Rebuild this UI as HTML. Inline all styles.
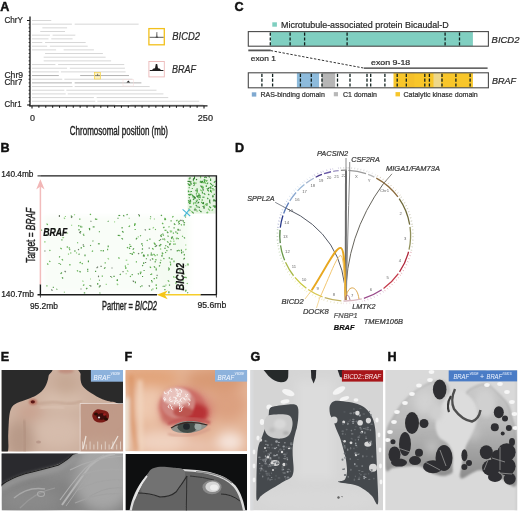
<!DOCTYPE html>
<html><head><meta charset="utf-8"><title>BICD2-BRAF figure</title>
<style>html,body{margin:0;padding:0;background:#fff;}svg{display:block;}
text{font-family:'Liberation Sans', Arial, Helvetica, sans-serif;}</style></head><body>
<svg width="520" height="512" viewBox="0 0 520 512">
<rect x="0" y="0" width="520" height="512" fill="#fff"/>
<text x="0.20" y="11.30" font-size="12.60" fill="#111" font-weight="bold" font-style="normal" text-anchor="start" stroke="#111" stroke-width="0.45">A</text>
<line x1="32.00" y1="20.50" x2="51.26" y2="20.50" stroke="#d3d3d3" stroke-width="0.9"/>
<line x1="28.6" y1="20.50" x2="30" y2="20.50" stroke="#222" stroke-width="0.9"/>
<path d="M32.00 24.17 H71.90 M74.66 24.17 H138.64" stroke="#d3d3d3" stroke-width="0.9"/>
<line x1="28.6" y1="24.17" x2="30" y2="24.17" stroke="#222" stroke-width="0.9"/>
<line x1="42.32" y1="27.84" x2="67.09" y2="27.84" stroke="#d3d3d3" stroke-width="0.9"/>
<line x1="28.6" y1="27.84" x2="30" y2="27.84" stroke="#222" stroke-width="0.9"/>
<line x1="40.26" y1="31.51" x2="65.02" y2="31.51" stroke="#d3d3d3" stroke-width="0.9"/>
<line x1="28.6" y1="31.51" x2="30" y2="31.51" stroke="#222" stroke-width="0.9"/>
<path d="M32.00 35.18 H49.89 M52.64 35.18 H75.34" stroke="#d3d3d3" stroke-width="0.9"/>
<line x1="28.6" y1="35.18" x2="30" y2="35.18" stroke="#222" stroke-width="0.9"/>
<path d="M32.00 38.85 H48.51 M51.26 38.85 H72.59" stroke="#d3d3d3" stroke-width="0.9"/>
<line x1="28.6" y1="38.85" x2="30" y2="38.85" stroke="#222" stroke-width="0.9"/>
<path d="M32.00 42.52 H42.32 M45.07 42.52 H85.66" stroke="#d3d3d3" stroke-width="0.9"/>
<line x1="28.6" y1="42.52" x2="30" y2="42.52" stroke="#222" stroke-width="0.9"/>
<path d="M32.00 46.19 H47.14 M49.89 46.19 H87.73" stroke="#d3d3d3" stroke-width="0.9"/>
<line x1="28.6" y1="46.19" x2="30" y2="46.19" stroke="#222" stroke-width="0.9"/>
<path d="M32.00 49.86 H56.08 M63.65 49.86 H93.92" stroke="#d3d3d3" stroke-width="0.9"/>
<line x1="28.6" y1="49.86" x2="30" y2="49.86" stroke="#222" stroke-width="0.9"/>
<line x1="45.07" y1="53.53" x2="102.86" y2="53.53" stroke="#d3d3d3" stroke-width="0.9"/>
<line x1="28.6" y1="53.53" x2="30" y2="53.53" stroke="#222" stroke-width="0.9"/>
<line x1="43.70" y1="57.20" x2="105.62" y2="57.20" stroke="#d3d3d3" stroke-width="0.9"/>
<line x1="28.6" y1="57.20" x2="30" y2="57.20" stroke="#222" stroke-width="0.9"/>
<line x1="43.70" y1="60.87" x2="111.12" y2="60.87" stroke="#d3d3d3" stroke-width="0.9"/>
<line x1="28.6" y1="60.87" x2="30" y2="60.87" stroke="#222" stroke-width="0.9"/>
<path d="M32.00 64.54 H55.39 M58.14 64.54 H124.19" stroke="#d3d3d3" stroke-width="0.9"/>
<line x1="28.6" y1="64.54" x2="30" y2="64.54" stroke="#222" stroke-width="0.9"/>
<path d="M32.00 68.21 H67.09 M69.84 68.21 H124.88" stroke="#d3d3d3" stroke-width="0.9"/>
<line x1="28.6" y1="68.21" x2="30" y2="68.21" stroke="#222" stroke-width="0.9"/>
<path d="M32.00 71.88 H58.83 M60.90 71.88 H125.57" stroke="#d3d3d3" stroke-width="0.9"/>
<line x1="28.6" y1="71.88" x2="30" y2="71.88" stroke="#222" stroke-width="0.9"/>
<path d="M32.00 75.55 H58.83 M80.16 75.55 H129.01" stroke="#aaaaaa" stroke-width="0.9"/>
<line x1="28.6" y1="75.55" x2="30" y2="75.55" stroke="#222" stroke-width="0.9"/>
<path d="M32.00 79.22 H62.27 M64.34 79.22 H132.45" stroke="#d3d3d3" stroke-width="0.9"/>
<line x1="28.6" y1="79.22" x2="30" y2="79.22" stroke="#222" stroke-width="0.9"/>
<path d="M32.00 82.89 H71.90 M74.66 82.89 H141.39" stroke="#aaaaaa" stroke-width="0.9"/>
<line x1="28.6" y1="82.89" x2="30" y2="82.89" stroke="#222" stroke-width="0.9"/>
<path d="M32.00 86.56 H72.59 M74.66 86.56 H149.65" stroke="#d3d3d3" stroke-width="0.9"/>
<line x1="28.6" y1="86.56" x2="30" y2="86.56" stroke="#222" stroke-width="0.9"/>
<path d="M32.00 90.23 H64.34 M66.40 90.23 H156.53" stroke="#d3d3d3" stroke-width="0.9"/>
<line x1="28.6" y1="90.23" x2="30" y2="90.23" stroke="#222" stroke-width="0.9"/>
<path d="M32.00 93.90 H65.71 M67.78 93.90 H163.41" stroke="#d3d3d3" stroke-width="0.9"/>
<line x1="28.6" y1="93.90" x2="30" y2="93.90" stroke="#222" stroke-width="0.9"/>
<path d="M32.00 97.57 H93.92 M96.67 97.57 H168.22" stroke="#d3d3d3" stroke-width="0.9"/>
<line x1="28.6" y1="97.57" x2="30" y2="97.57" stroke="#222" stroke-width="0.9"/>
<path d="M32.00 101.24 H95.30 M97.36 101.24 H199.18" stroke="#d3d3d3" stroke-width="0.9"/>
<line x1="28.6" y1="101.24" x2="30" y2="101.24" stroke="#222" stroke-width="0.9"/>
<path d="M32.00 104.91 H115.25 M130.38 104.91 H203.31" stroke="#d3d3d3" stroke-width="0.9"/>
<line x1="28.6" y1="104.91" x2="30" y2="104.91" stroke="#222" stroke-width="0.9"/>
<line x1="30" y1="16.5" x2="30" y2="106.4" stroke="#1a1a1a" stroke-width="1.3"/>
<line x1="27" y1="20.5" x2="30" y2="20.5" stroke="#1a1a1a" stroke-width="1"/>
<line x1="27" y1="105" x2="30" y2="105" stroke="#1a1a1a" stroke-width="1"/>
<line x1="29.4" y1="105.8" x2="207.5" y2="105.8" stroke="#1a1a1a" stroke-width="1.3"/>
<line x1="32.00" y1="105.8" x2="32.00" y2="108.60" stroke="#1a1a1a" stroke-width="1.1"/>
<line x1="38.88" y1="105.8" x2="38.88" y2="107.80" stroke="#1a1a1a" stroke-width="1.1"/>
<line x1="45.76" y1="105.8" x2="45.76" y2="107.80" stroke="#1a1a1a" stroke-width="1.1"/>
<line x1="52.64" y1="105.8" x2="52.64" y2="107.80" stroke="#1a1a1a" stroke-width="1.1"/>
<line x1="59.52" y1="105.8" x2="59.52" y2="107.80" stroke="#1a1a1a" stroke-width="1.1"/>
<line x1="66.40" y1="105.8" x2="66.40" y2="107.80" stroke="#1a1a1a" stroke-width="1.1"/>
<line x1="73.28" y1="105.8" x2="73.28" y2="107.80" stroke="#1a1a1a" stroke-width="1.1"/>
<line x1="80.16" y1="105.8" x2="80.16" y2="107.80" stroke="#1a1a1a" stroke-width="1.1"/>
<line x1="87.04" y1="105.8" x2="87.04" y2="107.80" stroke="#1a1a1a" stroke-width="1.1"/>
<line x1="93.92" y1="105.8" x2="93.92" y2="107.80" stroke="#1a1a1a" stroke-width="1.1"/>
<line x1="100.80" y1="105.8" x2="100.80" y2="107.80" stroke="#1a1a1a" stroke-width="1.1"/>
<line x1="107.68" y1="105.8" x2="107.68" y2="107.80" stroke="#1a1a1a" stroke-width="1.1"/>
<line x1="114.56" y1="105.8" x2="114.56" y2="107.80" stroke="#1a1a1a" stroke-width="1.1"/>
<line x1="121.44" y1="105.8" x2="121.44" y2="107.80" stroke="#1a1a1a" stroke-width="1.1"/>
<line x1="128.32" y1="105.8" x2="128.32" y2="107.80" stroke="#1a1a1a" stroke-width="1.1"/>
<line x1="135.20" y1="105.8" x2="135.20" y2="107.80" stroke="#1a1a1a" stroke-width="1.1"/>
<line x1="142.08" y1="105.8" x2="142.08" y2="107.80" stroke="#1a1a1a" stroke-width="1.1"/>
<line x1="148.96" y1="105.8" x2="148.96" y2="107.80" stroke="#1a1a1a" stroke-width="1.1"/>
<line x1="155.84" y1="105.8" x2="155.84" y2="107.80" stroke="#1a1a1a" stroke-width="1.1"/>
<line x1="162.72" y1="105.8" x2="162.72" y2="107.80" stroke="#1a1a1a" stroke-width="1.1"/>
<line x1="169.60" y1="105.8" x2="169.60" y2="107.80" stroke="#1a1a1a" stroke-width="1.1"/>
<line x1="176.48" y1="105.8" x2="176.48" y2="107.80" stroke="#1a1a1a" stroke-width="1.1"/>
<line x1="183.36" y1="105.8" x2="183.36" y2="107.80" stroke="#1a1a1a" stroke-width="1.1"/>
<line x1="190.24" y1="105.8" x2="190.24" y2="107.80" stroke="#1a1a1a" stroke-width="1.1"/>
<line x1="197.12" y1="105.8" x2="197.12" y2="107.80" stroke="#1a1a1a" stroke-width="1.1"/>
<line x1="204.00" y1="105.8" x2="204.00" y2="108.60" stroke="#1a1a1a" stroke-width="1.1"/>
<text x="4.40" y="23.00" font-size="8.57" fill="#2a2a2a" font-weight="normal" font-style="normal" text-anchor="start" textLength="18.60" lengthAdjust="spacingAndGlyphs" stroke="#2a2a2a" stroke-width="0.22">ChrY</text>
<text x="4.40" y="78.10" font-size="8.41" fill="#2a2a2a" font-weight="normal" font-style="normal" text-anchor="start" textLength="18.70" lengthAdjust="spacingAndGlyphs" stroke="#2a2a2a" stroke-width="0.22">Chr9</text>
<text x="4.40" y="85.00" font-size="8.41" fill="#2a2a2a" font-weight="normal" font-style="normal" text-anchor="start" textLength="17.90" lengthAdjust="spacingAndGlyphs" stroke="#2a2a2a" stroke-width="0.22">Chr7</text>
<text x="4.50" y="106.90" font-size="8.41" fill="#2a2a2a" font-weight="normal" font-style="normal" text-anchor="start" textLength="17.10" lengthAdjust="spacingAndGlyphs" stroke="#2a2a2a" stroke-width="0.22">Chr1</text>
<text x="30.00" y="120.60" font-size="8.41" fill="#2a2a2a" font-weight="normal" font-style="normal" text-anchor="start" textLength="5.00" lengthAdjust="spacingAndGlyphs" stroke="#2a2a2a" stroke-width="0.22">0</text>
<text x="197.80" y="120.60" font-size="8.41" fill="#2a2a2a" font-weight="normal" font-style="normal" text-anchor="start" textLength="15.20" lengthAdjust="spacingAndGlyphs" stroke="#2a2a2a" stroke-width="0.22">250</text>
<text x="69.80" y="134.70" font-size="11.90" fill="#222" font-weight="normal" font-style="normal" text-anchor="start" textLength="98.20" lengthAdjust="spacingAndGlyphs" stroke="#222" stroke-width="0.4">Chromosomal position (mb)</text>
<rect x="94.4" y="72.4" width="6.2" height="6.6" fill="#fdf3c4" stroke="#f4d04a" stroke-width="0.7"/>
<path d="M95 75.6 L100 75.6 M97.6 75.6 L97.6 73.8" stroke="#333" stroke-width="0.6"/>
<rect x="123" y="79.6" width="10.4" height="6.4" fill="none" stroke="#f6dcdc" stroke-width="0.5"/>
<path d="M126.5 82.6 L128.3 80.6 L130.2 82.6 Z" fill="#222"/>
<rect x="148.9" y="28.6" width="15.4" height="16.2" fill="#fff" stroke="#f2c01c" stroke-width="1.3"/>
<line x1="149.6" y1="37.3" x2="163.6" y2="37.3" stroke="#333" stroke-width="0.8"/>
<path d="M155.6 37.3 L156.6 37.0 L156.9 32.0 L157.2 37.0 L158.2 37.3 Z" fill="#222" stroke="#222" stroke-width="0.3"/>
<rect x="148.9" y="61.5" width="15.4" height="15.4" fill="#fff" stroke="#ecb8b8" stroke-width="0.9"/>
<path d="M149.8 70 L152 70 L153.5 68.6 L155 68.2 L155.8 64 L157.2 64 L158 68.2 L159.5 68.6 L161 70 L163.4 70 L163.4 71 L149.8 71 Z" fill="#1e1e1e"/>
<text x="172.30" y="39.60" font-size="10.00" fill="#2a2a2a" font-weight="normal" font-style="italic" text-anchor="start" textLength="27.60" lengthAdjust="spacingAndGlyphs" stroke="#2a2a2a" stroke-width="0.22">BICD2</text>
<text x="172.00" y="72.80" font-size="10.16" fill="#2a2a2a" font-weight="normal" font-style="italic" text-anchor="start" textLength="23.90" lengthAdjust="spacingAndGlyphs" stroke="#2a2a2a" stroke-width="0.22">BRAF</text>
<text x="0.60" y="152.00" font-size="12.60" fill="#111" font-weight="bold" font-style="normal" text-anchor="start" stroke="#111" stroke-width="0.45">B</text>
<rect x="44" y="216" width="141" height="76" fill="#f9fdf8" filter="url(#bl2)"/>
<path d="M150 262 L188 213 L188 290 L160 290 Z" fill="#f4fbf2" filter="url(#bl4)"/>
<rect x="187.6" y="176.6" width="28.2" height="37" fill="#e6f5e2"/>
<line x1="118.4" y1="257.5" x2="119.5" y2="258.5" stroke="#5cae4c" stroke-width="1.15"/>
<line x1="178.4" y1="249.9" x2="179.6" y2="251.1" stroke="#4f9a45" stroke-width="1.15"/>
<line x1="125.7" y1="260.2" x2="127.3" y2="260.2" stroke="#8fcf7f" stroke-width="1.15"/>
<line x1="79.5" y1="253.8" x2="78.6" y2="254.6" stroke="#4f9a45" stroke-width="1.15"/>
<line x1="142.0" y1="276.5" x2="143.1" y2="276.5" stroke="#4f9a45" stroke-width="1.15"/>
<line x1="62.3" y1="237.6" x2="64.1" y2="237.6" stroke="#8fcf7f" stroke-width="1.15"/>
<line x1="62.0" y1="277.3" x2="63.1" y2="278.5" stroke="#4f9a45" stroke-width="1.15"/>
<line x1="151.0" y1="216.5" x2="150.3" y2="217.2" stroke="#4f9a45" stroke-width="1.15"/>
<line x1="185.2" y1="290.2" x2="186.6" y2="290.2" stroke="#4f9a45" stroke-width="1.15"/>
<line x1="145.6" y1="261.9" x2="145.6" y2="263.0" stroke="#6a7a66" stroke-width="1.15"/>
<line x1="74.9" y1="214.3" x2="74.1" y2="215.1" stroke="#8fcf7f" stroke-width="1.15"/>
<line x1="129.2" y1="217.8" x2="129.2" y2="218.7" stroke="#8fcf7f" stroke-width="1.15"/>
<line x1="79.3" y1="232.0" x2="80.7" y2="233.4" stroke="#6a7a66" stroke-width="1.15"/>
<line x1="49.5" y1="250.0" x2="50.3" y2="250.8" stroke="#5cae4c" stroke-width="1.15"/>
<line x1="117.7" y1="280.0" x2="116.9" y2="280.9" stroke="#5cae4c" stroke-width="1.15"/>
<line x1="127.4" y1="264.4" x2="128.6" y2="264.4" stroke="#8fcf7f" stroke-width="1.15"/>
<line x1="125.4" y1="265.6" x2="125.4" y2="266.7" stroke="#5cae4c" stroke-width="1.15"/>
<line x1="118.7" y1="235.6" x2="120.5" y2="235.6" stroke="#8fcf7f" stroke-width="1.15"/>
<line x1="188.1" y1="292.3" x2="187.3" y2="293.1" stroke="#4f9a45" stroke-width="1.15"/>
<line x1="169.5" y1="269.2" x2="168.3" y2="270.4" stroke="#4f9a45" stroke-width="1.15"/>
<line x1="99.4" y1="231.2" x2="99.4" y2="232.3" stroke="#4f9a45" stroke-width="1.15"/>
<line x1="95.5" y1="218.5" x2="95.5" y2="219.7" stroke="#4f9a45" stroke-width="1.15"/>
<line x1="159.8" y1="244.8" x2="159.8" y2="245.8" stroke="#5cae4c" stroke-width="1.15"/>
<line x1="169.2" y1="243.8" x2="170.1" y2="244.7" stroke="#4f9a45" stroke-width="1.15"/>
<line x1="183.0" y1="280.3" x2="183.0" y2="281.5" stroke="#5cae4c" stroke-width="1.15"/>
<line x1="40.9" y1="229.7" x2="41.9" y2="230.7" stroke="#5cae4c" stroke-width="1.15"/>
<line x1="177.3" y1="250.1" x2="177.3" y2="251.6" stroke="#4f9a45" stroke-width="1.15"/>
<line x1="185.7" y1="244.6" x2="185.7" y2="245.5" stroke="#8fcf7f" stroke-width="1.15"/>
<line x1="59.1" y1="263.0" x2="59.1" y2="264.1" stroke="#4f9a45" stroke-width="1.15"/>
<line x1="160.9" y1="234.5" x2="161.7" y2="235.4" stroke="#4f9a45" stroke-width="1.15"/>
<line x1="61.9" y1="239.3" x2="61.9" y2="240.5" stroke="#4f9a45" stroke-width="1.15"/>
<line x1="183.1" y1="273.1" x2="184.4" y2="274.4" stroke="#4f9a45" stroke-width="1.15"/>
<line x1="67.1" y1="233.1" x2="68.1" y2="233.1" stroke="#8fcf7f" stroke-width="1.15"/>
<line x1="63.9" y1="217.7" x2="65.0" y2="218.8" stroke="#8fcf7f" stroke-width="1.15"/>
<line x1="163.1" y1="227.1" x2="164.1" y2="228.1" stroke="#8fcf7f" stroke-width="1.15"/>
<line x1="134.0" y1="248.4" x2="132.7" y2="249.7" stroke="#4f9a45" stroke-width="1.15"/>
<line x1="79.5" y1="271.2" x2="80.6" y2="272.2" stroke="#4f9a45" stroke-width="1.15"/>
<line x1="69.9" y1="263.9" x2="69.9" y2="265.4" stroke="#5cae4c" stroke-width="1.15"/>
<line x1="67.3" y1="246.2" x2="67.3" y2="247.7" stroke="#5cae4c" stroke-width="1.15"/>
<line x1="83.0" y1="234.3" x2="84.3" y2="235.6" stroke="#4f9a45" stroke-width="1.15"/>
<line x1="184.6" y1="276.7" x2="184.6" y2="278.1" stroke="#4f9a45" stroke-width="1.15"/>
<line x1="97.7" y1="283.0" x2="97.7" y2="284.7" stroke="#4f9a45" stroke-width="1.15"/>
<line x1="82.7" y1="244.8" x2="83.9" y2="244.8" stroke="#6a7a66" stroke-width="1.15"/>
<line x1="170.6" y1="263.6" x2="170.6" y2="265.4" stroke="#5cae4c" stroke-width="1.15"/>
<line x1="64.4" y1="291.7" x2="64.4" y2="292.6" stroke="#5cae4c" stroke-width="1.15"/>
<line x1="83.2" y1="234.0" x2="84.2" y2="234.0" stroke="#8fcf7f" stroke-width="1.15"/>
<line x1="160.2" y1="239.3" x2="161.0" y2="240.0" stroke="#6a7a66" stroke-width="1.15"/>
<line x1="95.8" y1="219.3" x2="97.3" y2="219.3" stroke="#5cae4c" stroke-width="1.15"/>
<line x1="61.8" y1="259.2" x2="63.0" y2="260.4" stroke="#5cae4c" stroke-width="1.15"/>
<line x1="88.4" y1="260.4" x2="88.4" y2="262.3" stroke="#4f9a45" stroke-width="1.15"/>
<line x1="107.6" y1="248.8" x2="107.6" y2="250.3" stroke="#5cae4c" stroke-width="1.15"/>
<line x1="183.5" y1="251.6" x2="182.8" y2="252.3" stroke="#4f9a45" stroke-width="1.15"/>
<line x1="135.4" y1="281.6" x2="135.4" y2="283.2" stroke="#4f9a45" stroke-width="1.15"/>
<line x1="78.8" y1="224.9" x2="78.8" y2="226.6" stroke="#5cae4c" stroke-width="1.15"/>
<line x1="177.1" y1="277.7" x2="177.1" y2="279.3" stroke="#5cae4c" stroke-width="1.15"/>
<line x1="89.0" y1="228.2" x2="89.8" y2="229.0" stroke="#4f9a45" stroke-width="1.15"/>
<line x1="156.5" y1="287.4" x2="156.5" y2="289.1" stroke="#5cae4c" stroke-width="1.15"/>
<line x1="80.5" y1="289.0" x2="81.5" y2="289.0" stroke="#6a7a66" stroke-width="1.15"/>
<line x1="174.0" y1="260.6" x2="174.0" y2="262.3" stroke="#5cae4c" stroke-width="1.15"/>
<line x1="114.2" y1="221.8" x2="115.1" y2="221.8" stroke="#8fcf7f" stroke-width="1.15"/>
<line x1="51.3" y1="289.5" x2="52.5" y2="290.6" stroke="#6a7a66" stroke-width="1.15"/>
<line x1="87.7" y1="268.8" x2="87.7" y2="270.2" stroke="#4f9a45" stroke-width="1.15"/>
<line x1="90.1" y1="279.0" x2="91.0" y2="279.0" stroke="#8fcf7f" stroke-width="1.15"/>
<line x1="137.7" y1="236.8" x2="138.8" y2="236.8" stroke="#8fcf7f" stroke-width="1.15"/>
<line x1="77.0" y1="270.3" x2="78.0" y2="271.3" stroke="#5cae4c" stroke-width="1.15"/>
<line x1="58.3" y1="230.8" x2="58.3" y2="232.5" stroke="#8fcf7f" stroke-width="1.15"/>
<line x1="132.8" y1="280.7" x2="134.0" y2="281.9" stroke="#6a7a66" stroke-width="1.15"/>
<line x1="140.2" y1="235.4" x2="140.9" y2="236.1" stroke="#4f9a45" stroke-width="1.15"/>
<line x1="177.8" y1="229.4" x2="178.6" y2="230.1" stroke="#4f9a45" stroke-width="1.15"/>
<line x1="46.5" y1="234.3" x2="46.5" y2="235.5" stroke="#4f9a45" stroke-width="1.15"/>
<line x1="118.0" y1="217.8" x2="118.0" y2="218.8" stroke="#4f9a45" stroke-width="1.15"/>
<line x1="78.0" y1="242.5" x2="77.3" y2="243.2" stroke="#5cae4c" stroke-width="1.15"/>
<line x1="135.0" y1="223.0" x2="135.0" y2="224.9" stroke="#5cae4c" stroke-width="1.15"/>
<line x1="105.7" y1="284.3" x2="106.8" y2="284.3" stroke="#8fcf7f" stroke-width="1.15"/>
<line x1="185.1" y1="265.7" x2="186.3" y2="265.7" stroke="#8fcf7f" stroke-width="1.15"/>
<line x1="150.8" y1="259.6" x2="150.0" y2="260.4" stroke="#6a7a66" stroke-width="1.15"/>
<line x1="70.9" y1="215.7" x2="72.2" y2="216.9" stroke="#4f9a45" stroke-width="1.15"/>
<line x1="46.9" y1="285.2" x2="46.9" y2="286.5" stroke="#5cae4c" stroke-width="1.15"/>
<line x1="151.0" y1="290.0" x2="152.3" y2="290.0" stroke="#5cae4c" stroke-width="1.15"/>
<line x1="47.2" y1="263.5" x2="48.3" y2="264.6" stroke="#5cae4c" stroke-width="1.15"/>
<line x1="122.5" y1="271.6" x2="123.6" y2="271.6" stroke="#6a7a66" stroke-width="1.15"/>
<line x1="100.3" y1="292.6" x2="99.6" y2="293.3" stroke="#4f9a45" stroke-width="1.15"/>
<line x1="59.1" y1="256.5" x2="60.0" y2="257.3" stroke="#4f9a45" stroke-width="1.15"/>
<line x1="156.2" y1="284.2" x2="156.2" y2="285.9" stroke="#5cae4c" stroke-width="1.15"/>
<line x1="156.2" y1="268.5" x2="156.2" y2="270.4" stroke="#4f9a45" stroke-width="1.15"/>
<line x1="162.8" y1="285.9" x2="163.5" y2="286.6" stroke="#4f9a45" stroke-width="1.15"/>
<line x1="105.4" y1="267.3" x2="104.1" y2="268.7" stroke="#4f9a45" stroke-width="1.15"/>
<line x1="175.8" y1="282.3" x2="176.6" y2="283.2" stroke="#4f9a45" stroke-width="1.15"/>
<line x1="113.4" y1="276.3" x2="114.7" y2="276.3" stroke="#4f9a45" stroke-width="1.15"/>
<line x1="170.8" y1="259.0" x2="172.6" y2="259.0" stroke="#4f9a45" stroke-width="1.15"/>
<line x1="141.9" y1="243.0" x2="141.9" y2="244.8" stroke="#4f9a45" stroke-width="1.15"/>
<line x1="136.4" y1="261.3" x2="136.4" y2="262.5" stroke="#5cae4c" stroke-width="1.15"/>
<line x1="60.2" y1="264.0" x2="60.9" y2="264.7" stroke="#4f9a45" stroke-width="1.15"/>
<line x1="186.8" y1="283.1" x2="187.6" y2="283.8" stroke="#5cae4c" stroke-width="1.15"/>
<line x1="155.1" y1="243.7" x2="155.1" y2="245.1" stroke="#4f9a45" stroke-width="1.15"/>
<line x1="155.9" y1="259.0" x2="155.9" y2="260.4" stroke="#5cae4c" stroke-width="1.15"/>
<line x1="117.3" y1="279.3" x2="117.3" y2="281.0" stroke="#4f9a45" stroke-width="1.15"/>
<line x1="61.9" y1="272.5" x2="60.6" y2="273.8" stroke="#4f9a45" stroke-width="1.15"/>
<line x1="49.3" y1="260.8" x2="50.3" y2="261.8" stroke="#5cae4c" stroke-width="1.15"/>
<line x1="122.2" y1="231.1" x2="123.5" y2="232.5" stroke="#4f9a45" stroke-width="1.15"/>
<line x1="151.3" y1="252.4" x2="151.3" y2="253.7" stroke="#4f9a45" stroke-width="1.15"/>
<line x1="140.2" y1="286.3" x2="140.9" y2="287.0" stroke="#4f9a45" stroke-width="1.15"/>
<line x1="89.9" y1="213.9" x2="90.9" y2="214.9" stroke="#5cae4c" stroke-width="1.15"/>
<line x1="98.0" y1="266.7" x2="96.6" y2="268.1" stroke="#6a7a66" stroke-width="1.15"/>
<line x1="81.6" y1="226.6" x2="82.3" y2="227.3" stroke="#5cae4c" stroke-width="1.15"/>
<line x1="176.3" y1="265.5" x2="177.3" y2="266.4" stroke="#5cae4c" stroke-width="1.15"/>
<line x1="116.8" y1="283.7" x2="118.1" y2="285.0" stroke="#8fcf7f" stroke-width="1.15"/>
<line x1="100.5" y1="266.4" x2="101.7" y2="266.4" stroke="#6a7a66" stroke-width="1.15"/>
<line x1="80.6" y1="247.8" x2="82.0" y2="247.8" stroke="#4f9a45" stroke-width="1.15"/>
<line x1="164.1" y1="286.2" x2="165.3" y2="286.2" stroke="#4f9a45" stroke-width="1.15"/>
<line x1="173.2" y1="244.1" x2="174.3" y2="244.1" stroke="#5cae4c" stroke-width="1.15"/>
<line x1="137.1" y1="238.0" x2="135.9" y2="239.3" stroke="#4f9a45" stroke-width="1.15"/>
<line x1="70.4" y1="252.6" x2="71.2" y2="253.4" stroke="#5cae4c" stroke-width="1.15"/>
<line x1="167.8" y1="280.3" x2="169.2" y2="281.6" stroke="#5cae4c" stroke-width="1.15"/>
<line x1="152.9" y1="288.4" x2="152.9" y2="289.6" stroke="#5cae4c" stroke-width="1.15"/>
<line x1="92.7" y1="226.9" x2="94.6" y2="226.9" stroke="#4f9a45" stroke-width="1.15"/>
<line x1="117.7" y1="235.4" x2="119.6" y2="235.4" stroke="#4f9a45" stroke-width="1.15"/>
<line x1="83.8" y1="245.8" x2="83.8" y2="247.1" stroke="#4f9a45" stroke-width="1.15"/>
<line x1="142.6" y1="252.2" x2="141.4" y2="253.4" stroke="#4f9a45" stroke-width="1.15"/>
<line x1="99.7" y1="279.9" x2="99.1" y2="280.5" stroke="#4f9a45" stroke-width="1.15"/>
<line x1="186.4" y1="248.9" x2="185.3" y2="250.0" stroke="#8fcf7f" stroke-width="1.15"/>
<line x1="59.4" y1="215.1" x2="59.4" y2="216.9" stroke="#6a7a66" stroke-width="1.15"/>
<line x1="173.4" y1="216.2" x2="172.3" y2="217.4" stroke="#5cae4c" stroke-width="1.15"/>
<line x1="152.0" y1="258.3" x2="153.2" y2="259.5" stroke="#4f9a45" stroke-width="1.15"/>
<line x1="98.5" y1="275.6" x2="98.5" y2="277.2" stroke="#6a7a66" stroke-width="1.15"/>
<line x1="46.6" y1="223.7" x2="47.8" y2="224.9" stroke="#5cae4c" stroke-width="1.15"/>
<line x1="118.4" y1="215.5" x2="120.2" y2="215.5" stroke="#4f9a45" stroke-width="1.15"/>
<line x1="166.9" y1="231.7" x2="168.3" y2="233.0" stroke="#4f9a45" stroke-width="1.15"/>
<line x1="72.2" y1="216.6" x2="71.1" y2="217.8" stroke="#6a7a66" stroke-width="1.15"/>
<line x1="142.0" y1="248.5" x2="142.9" y2="249.5" stroke="#4f9a45" stroke-width="1.15"/>
<line x1="142.2" y1="265.2" x2="143.0" y2="266.0" stroke="#4f9a45" stroke-width="1.15"/>
<line x1="164.9" y1="289.1" x2="164.9" y2="290.3" stroke="#4f9a45" stroke-width="1.15"/>
<line x1="148.8" y1="229.3" x2="150.3" y2="229.3" stroke="#4f9a45" stroke-width="1.15"/>
<line x1="122.1" y1="227.0" x2="122.1" y2="228.5" stroke="#4f9a45" stroke-width="1.15"/>
<line x1="44.9" y1="250.5" x2="44.9" y2="251.5" stroke="#6a7a66" stroke-width="1.15"/>
<line x1="153.9" y1="227.2" x2="152.7" y2="228.3" stroke="#8fcf7f" stroke-width="1.15"/>
<line x1="92.6" y1="240.6" x2="93.3" y2="241.3" stroke="#4f9a45" stroke-width="1.15"/>
<line x1="151.2" y1="254.0" x2="151.2" y2="255.7" stroke="#4f9a45" stroke-width="1.15"/>
<line x1="140.2" y1="273.2" x2="140.9" y2="274.0" stroke="#4f9a45" stroke-width="1.15"/>
<line x1="110.7" y1="275.9" x2="110.7" y2="277.0" stroke="#6a7a66" stroke-width="1.15"/>
<line x1="177.5" y1="219.8" x2="176.2" y2="221.1" stroke="#5cae4c" stroke-width="1.15"/>
<line x1="180.0" y1="270.3" x2="180.0" y2="271.5" stroke="#4f9a45" stroke-width="1.15"/>
<line x1="69.7" y1="248.8" x2="69.7" y2="250.3" stroke="#5cae4c" stroke-width="1.15"/>
<line x1="141.6" y1="285.4" x2="142.4" y2="286.3" stroke="#4f9a45" stroke-width="1.15"/>
<line x1="107.7" y1="258.1" x2="108.9" y2="259.3" stroke="#8fcf7f" stroke-width="1.15"/>
<line x1="173.6" y1="275.9" x2="173.6" y2="277.7" stroke="#8fcf7f" stroke-width="1.15"/>
<line x1="181.4" y1="249.4" x2="181.4" y2="251.3" stroke="#4f9a45" stroke-width="1.15"/>
<line x1="144.8" y1="229.3" x2="145.8" y2="230.3" stroke="#6a7a66" stroke-width="1.15"/>
<line x1="153.6" y1="278.6" x2="154.9" y2="278.6" stroke="#5cae4c" stroke-width="1.15"/>
<line x1="144.1" y1="270.0" x2="144.1" y2="271.1" stroke="#4f9a45" stroke-width="1.15"/>
<line x1="84.3" y1="284.5" x2="83.1" y2="285.6" stroke="#5cae4c" stroke-width="1.15"/>
<line x1="185.7" y1="290.6" x2="185.7" y2="291.8" stroke="#5cae4c" stroke-width="1.15"/>
<line x1="130.0" y1="276.0" x2="130.8" y2="276.8" stroke="#5cae4c" stroke-width="1.15"/>
<line x1="100.1" y1="284.9" x2="100.1" y2="286.7" stroke="#6a7a66" stroke-width="1.15"/>
<line x1="170.2" y1="240.6" x2="171.3" y2="241.8" stroke="#8fcf7f" stroke-width="1.15"/>
<line x1="60.4" y1="247.9" x2="61.7" y2="249.2" stroke="#5cae4c" stroke-width="1.15"/>
<line x1="132.2" y1="273.9" x2="132.2" y2="275.2" stroke="#4f9a45" stroke-width="1.15"/>
<line x1="123.2" y1="215.2" x2="124.3" y2="216.3" stroke="#4f9a45" stroke-width="1.15"/>
<line x1="164.5" y1="218.0" x2="165.7" y2="219.2" stroke="#5cae4c" stroke-width="1.15"/>
<line x1="164.4" y1="226.8" x2="163.5" y2="227.7" stroke="#4f9a45" stroke-width="1.15"/>
<line x1="102.3" y1="275.5" x2="102.3" y2="276.8" stroke="#5cae4c" stroke-width="1.15"/>
<line x1="71.6" y1="224.8" x2="71.6" y2="225.8" stroke="#8fcf7f" stroke-width="1.15"/>
<line x1="127.0" y1="270.4" x2="128.3" y2="271.7" stroke="#8fcf7f" stroke-width="1.15"/>
<line x1="168.3" y1="267.7" x2="169.5" y2="268.9" stroke="#4f9a45" stroke-width="1.15"/>
<line x1="181.6" y1="251.7" x2="181.6" y2="253.6" stroke="#4f9a45" stroke-width="1.15"/>
<line x1="181.6" y1="220.0" x2="182.4" y2="220.7" stroke="#6a7a66" stroke-width="1.15"/>
<line x1="85.0" y1="254.5" x2="85.0" y2="256.3" stroke="#4f9a45" stroke-width="1.15"/>
<line x1="95.6" y1="270.8" x2="95.6" y2="272.1" stroke="#4f9a45" stroke-width="1.15"/>
<line x1="143.7" y1="254.5" x2="143.7" y2="255.6" stroke="#4f9a45" stroke-width="1.15"/>
<line x1="169.3" y1="257.2" x2="169.3" y2="258.8" stroke="#4f9a45" stroke-width="1.15"/>
<line x1="97.9" y1="243.8" x2="99.8" y2="243.8" stroke="#4f9a45" stroke-width="1.15"/>
<line x1="169.9" y1="284.7" x2="169.1" y2="285.5" stroke="#4f9a45" stroke-width="1.15"/>
<line x1="82.4" y1="280.6" x2="83.4" y2="281.6" stroke="#8fcf7f" stroke-width="1.15"/>
<line x1="184.3" y1="254.7" x2="184.3" y2="255.6" stroke="#4f9a45" stroke-width="1.15"/>
<line x1="134.6" y1="229.5" x2="135.8" y2="229.5" stroke="#5cae4c" stroke-width="1.15"/>
<line x1="129.7" y1="253.5" x2="130.8" y2="253.5" stroke="#4f9a45" stroke-width="1.15"/>
<line x1="139.4" y1="215.0" x2="139.4" y2="216.5" stroke="#4f9a45" stroke-width="1.15"/>
<line x1="184.7" y1="254.2" x2="184.0" y2="254.9" stroke="#4f9a45" stroke-width="1.15"/>
<line x1="112.0" y1="276.9" x2="111.4" y2="277.5" stroke="#5cae4c" stroke-width="1.15"/>
<line x1="133.1" y1="251.8" x2="134.5" y2="253.2" stroke="#5cae4c" stroke-width="1.15"/>
<line x1="149.9" y1="218.3" x2="150.8" y2="219.2" stroke="#8fcf7f" stroke-width="1.15"/>
<line x1="129.7" y1="246.4" x2="131.5" y2="246.4" stroke="#4f9a45" stroke-width="1.15"/>
<line x1="182.9" y1="286.3" x2="182.9" y2="287.5" stroke="#5cae4c" stroke-width="1.15"/>
<line x1="93.0" y1="250.6" x2="91.9" y2="251.7" stroke="#5cae4c" stroke-width="1.15"/>
<line x1="68.8" y1="247.5" x2="69.6" y2="248.4" stroke="#4f9a45" stroke-width="1.15"/>
<line x1="165.9" y1="284.4" x2="165.9" y2="285.8" stroke="#8fcf7f" stroke-width="1.15"/>
<line x1="121.6" y1="238.1" x2="122.9" y2="239.4" stroke="#4f9a45" stroke-width="1.15"/>
<line x1="80.8" y1="262.0" x2="79.6" y2="263.2" stroke="#5cae4c" stroke-width="1.15"/>
<line x1="179.8" y1="223.2" x2="178.5" y2="224.4" stroke="#4f9a45" stroke-width="1.15"/>
<line x1="160.9" y1="214.8" x2="161.9" y2="215.8" stroke="#4f9a45" stroke-width="1.15"/>
<line x1="80.6" y1="230.9" x2="80.6" y2="232.2" stroke="#4f9a45" stroke-width="1.15"/>
<line x1="149.9" y1="238.5" x2="149.9" y2="239.7" stroke="#4f9a45" stroke-width="1.15"/>
<line x1="105.2" y1="262.2" x2="105.2" y2="263.4" stroke="#5cae4c" stroke-width="1.15"/>
<line x1="64.6" y1="271.0" x2="65.8" y2="272.2" stroke="#6a7a66" stroke-width="1.15"/>
<line x1="68.5" y1="253.4" x2="68.5" y2="254.8" stroke="#8fcf7f" stroke-width="1.15"/>
<line x1="89.6" y1="228.3" x2="89.6" y2="230.2" stroke="#4f9a45" stroke-width="1.15"/>
<line x1="129.0" y1="247.7" x2="130.0" y2="248.8" stroke="#4f9a45" stroke-width="1.15"/>
<line x1="108.2" y1="245.5" x2="108.2" y2="247.2" stroke="#4f9a45" stroke-width="1.15"/>
<line x1="130.0" y1="225.6" x2="128.7" y2="226.8" stroke="#5cae4c" stroke-width="1.15"/>
<line x1="82.7" y1="263.2" x2="81.8" y2="264.2" stroke="#5cae4c" stroke-width="1.15"/>
<line x1="144.3" y1="254.9" x2="143.0" y2="256.3" stroke="#4f9a45" stroke-width="1.15"/>
<line x1="169.8" y1="261.7" x2="170.7" y2="262.6" stroke="#5cae4c" stroke-width="1.15"/>
<line x1="170.9" y1="231.4" x2="170.9" y2="232.6" stroke="#5cae4c" stroke-width="1.15"/>
<line x1="156.2" y1="277.5" x2="157.1" y2="278.4" stroke="#4f9a45" stroke-width="1.15"/>
<line x1="176.1" y1="238.3" x2="176.8" y2="239.0" stroke="#4f9a45" stroke-width="1.15"/>
<line x1="98.9" y1="286.5" x2="99.7" y2="287.2" stroke="#4f9a45" stroke-width="1.15"/>
<line x1="83.8" y1="292.9" x2="85.2" y2="292.9" stroke="#4f9a45" stroke-width="1.15"/>
<line x1="173.9" y1="223.5" x2="175.3" y2="224.8" stroke="#4f9a45" stroke-width="1.15"/>
<line x1="87.4" y1="270.9" x2="88.2" y2="271.6" stroke="#4f9a45" stroke-width="1.15"/>
<line x1="91.3" y1="220.9" x2="90.6" y2="221.6" stroke="#6a7a66" stroke-width="1.15"/>
<line x1="167.2" y1="246.3" x2="168.6" y2="247.7" stroke="#4f9a45" stroke-width="1.15"/>
<line x1="162.1" y1="222.9" x2="163.3" y2="224.1" stroke="#5cae4c" stroke-width="1.15"/>
<line x1="111.5" y1="268.0" x2="112.5" y2="268.0" stroke="#6a7a66" stroke-width="1.15"/>
<line x1="46.4" y1="229.0" x2="47.3" y2="229.9" stroke="#8fcf7f" stroke-width="1.15"/>
<line x1="148.8" y1="285.4" x2="149.8" y2="286.5" stroke="#6a7a66" stroke-width="1.15"/>
<line x1="183.5" y1="222.7" x2="185.1" y2="222.7" stroke="#4f9a45" stroke-width="1.15"/>
<line x1="126.2" y1="273.3" x2="126.2" y2="274.3" stroke="#8fcf7f" stroke-width="1.15"/>
<line x1="125.8" y1="267.1" x2="125.8" y2="268.9" stroke="#5cae4c" stroke-width="1.15"/>
<line x1="79.8" y1="218.4" x2="79.8" y2="219.8" stroke="#5cae4c" stroke-width="1.15"/>
<line x1="65.4" y1="216.0" x2="65.4" y2="217.0" stroke="#8fcf7f" stroke-width="1.15"/>
<line x1="132.3" y1="253.7" x2="132.3" y2="255.1" stroke="#5cae4c" stroke-width="1.15"/>
<line x1="134.6" y1="224.2" x2="134.6" y2="226.1" stroke="#5cae4c" stroke-width="1.15"/>
<line x1="79.0" y1="228.9" x2="79.0" y2="230.5" stroke="#4f9a45" stroke-width="1.15"/>
<line x1="168.9" y1="291.3" x2="168.9" y2="293.2" stroke="#4f9a45" stroke-width="1.15"/>
<line x1="179.3" y1="220.4" x2="179.3" y2="221.8" stroke="#5cae4c" stroke-width="1.15"/>
<line x1="57.2" y1="288.8" x2="56.5" y2="289.5" stroke="#4f9a45" stroke-width="1.15"/>
<line x1="120.8" y1="273.8" x2="119.8" y2="274.8" stroke="#4f9a45" stroke-width="1.15"/>
<line x1="101.1" y1="250.0" x2="101.1" y2="251.2" stroke="#5cae4c" stroke-width="1.15"/>
<line x1="127.0" y1="247.2" x2="128.0" y2="248.2" stroke="#5cae4c" stroke-width="1.15"/>
<line x1="138.3" y1="214.6" x2="139.3" y2="214.6" stroke="#6a7a66" stroke-width="1.15"/>
<line x1="151.6" y1="280.1" x2="151.6" y2="281.2" stroke="#4f9a45" stroke-width="1.15"/>
<line x1="78.1" y1="249.2" x2="78.9" y2="250.0" stroke="#6a7a66" stroke-width="1.15"/>
<line x1="157.0" y1="245.2" x2="155.9" y2="246.2" stroke="#6a7a66" stroke-width="1.15"/>
<line x1="80.8" y1="225.7" x2="80.8" y2="227.6" stroke="#4f9a45" stroke-width="1.15"/>
<line x1="127.6" y1="214.2" x2="126.6" y2="215.2" stroke="#4f9a45" stroke-width="1.15"/>
<line x1="174.6" y1="277.2" x2="176.0" y2="277.2" stroke="#5cae4c" stroke-width="1.15"/>
<line x1="152.1" y1="281.3" x2="152.1" y2="282.5" stroke="#4f9a45" stroke-width="1.15"/>
<line x1="142.0" y1="245.7" x2="143.0" y2="245.7" stroke="#4f9a45" stroke-width="1.15"/>
<line x1="138.1" y1="253.1" x2="139.1" y2="254.1" stroke="#6a7a66" stroke-width="1.15"/>
<line x1="185.4" y1="277.0" x2="186.5" y2="278.0" stroke="#4f9a45" stroke-width="1.15"/>
<line x1="90.2" y1="285.4" x2="91.3" y2="286.5" stroke="#6a7a66" stroke-width="1.15"/>
<line x1="157.5" y1="275.0" x2="156.7" y2="275.7" stroke="#6a7a66" stroke-width="1.15"/>
<line x1="166.2" y1="245.3" x2="165.3" y2="246.2" stroke="#4f9a45" stroke-width="1.15"/>
<line x1="176.1" y1="283.0" x2="175.3" y2="283.9" stroke="#8fcf7f" stroke-width="1.15"/>
<line x1="150.3" y1="274.5" x2="151.4" y2="274.5" stroke="#4f9a45" stroke-width="1.15"/>
<line x1="158.8" y1="245.8" x2="160.5" y2="245.8" stroke="#4f9a45" stroke-width="1.15"/>
<line x1="154.4" y1="218.6" x2="154.4" y2="219.6" stroke="#8fcf7f" stroke-width="1.15"/>
<line x1="103.3" y1="250.0" x2="103.3" y2="251.6" stroke="#4f9a45" stroke-width="1.15"/>
<line x1="44.1" y1="241.8" x2="45.6" y2="241.8" stroke="#8fcf7f" stroke-width="1.15"/>
<line x1="143.7" y1="262.2" x2="143.7" y2="264.0" stroke="#4f9a45" stroke-width="1.15"/>
<line x1="87.3" y1="288.0" x2="86.1" y2="289.2" stroke="#4f9a45" stroke-width="1.15"/>
<line x1="146.8" y1="240.0" x2="147.6" y2="240.8" stroke="#5cae4c" stroke-width="1.15"/>
<line x1="146.4" y1="258.3" x2="146.4" y2="259.3" stroke="#4f9a45" stroke-width="1.15"/>
<line x1="130.2" y1="244.1" x2="129.5" y2="244.8" stroke="#5cae4c" stroke-width="1.15"/>
<line x1="188.0" y1="263.6" x2="188.0" y2="265.5" stroke="#4f9a45" stroke-width="1.15"/>
<line x1="151.2" y1="273.6" x2="152.1" y2="274.5" stroke="#5cae4c" stroke-width="1.15"/>
<line x1="185.7" y1="214.5" x2="185.7" y2="216.1" stroke="#8fcf7f" stroke-width="1.15"/>
<line x1="139.8" y1="272.2" x2="141.6" y2="272.2" stroke="#5cae4c" stroke-width="1.15"/>
<line x1="90.9" y1="245.1" x2="90.2" y2="245.8" stroke="#4f9a45" stroke-width="1.15"/>
<line x1="53.6" y1="229.0" x2="55.4" y2="229.0" stroke="#4f9a45" stroke-width="1.15"/>
<line x1="107.8" y1="221.0" x2="108.5" y2="221.7" stroke="#4f9a45" stroke-width="1.15"/>
<line x1="89.6" y1="284.9" x2="89.6" y2="286.1" stroke="#8fcf7f" stroke-width="1.15"/>
<line x1="131.6" y1="253.4" x2="132.6" y2="254.4" stroke="#4f9a45" stroke-width="1.15"/>
<line x1="184.8" y1="258.0" x2="183.5" y2="259.3" stroke="#4f9a45" stroke-width="1.15"/>
<line x1="187.4" y1="263.7" x2="187.4" y2="264.7" stroke="#8fcf7f" stroke-width="1.15"/>
<line x1="164.2" y1="219.6" x2="166.1" y2="219.6" stroke="#5cae4c" stroke-width="1.15"/>
<line x1="137.9" y1="273.4" x2="138.8" y2="274.3" stroke="#4f9a45" stroke-width="1.15"/>
<line x1="52.8" y1="287.4" x2="53.8" y2="287.4" stroke="#4f9a45" stroke-width="1.15"/>
<line x1="74.9" y1="250.2" x2="74.9" y2="251.8" stroke="#4f9a45" stroke-width="1.15"/>
<line x1="76.5" y1="252.3" x2="76.5" y2="253.5" stroke="#8fcf7f" stroke-width="1.15"/>
<line x1="183.9" y1="237.3" x2="185.0" y2="238.4" stroke="#4f9a45" stroke-width="1.15"/>
<line x1="159.7" y1="240.1" x2="159.0" y2="240.8" stroke="#4f9a45" stroke-width="1.15"/>
<line x1="161.8" y1="252.6" x2="162.7" y2="253.4" stroke="#4f9a45" stroke-width="1.15"/>
<line x1="169.6" y1="243.5" x2="169.6" y2="245.3" stroke="#6a7a66" stroke-width="1.15"/>
<line x1="164.2" y1="248.2" x2="165.8" y2="248.2" stroke="#4f9a45" stroke-width="1.15"/>
<line x1="156.6" y1="268.0" x2="155.9" y2="268.7" stroke="#8fcf7f" stroke-width="1.15"/>
<line x1="171.5" y1="236.8" x2="171.5" y2="237.8" stroke="#4f9a45" stroke-width="1.15"/>
<line x1="163.4" y1="258.1" x2="164.4" y2="259.0" stroke="#5cae4c" stroke-width="1.15"/>
<line x1="156.8" y1="254.5" x2="157.6" y2="255.3" stroke="#5cae4c" stroke-width="1.15"/>
<line x1="172.3" y1="237.8" x2="171.3" y2="238.8" stroke="#4f9a45" stroke-width="1.15"/>
<line x1="176.7" y1="232.6" x2="177.9" y2="233.8" stroke="#5cae4c" stroke-width="1.15"/>
<line x1="175.9" y1="238.1" x2="177.9" y2="238.1" stroke="#8fcf7f" stroke-width="1.15"/>
<line x1="178.2" y1="238.0" x2="178.2" y2="239.2" stroke="#4f9a45" stroke-width="1.15"/>
<line x1="167.1" y1="241.3" x2="168.5" y2="242.7" stroke="#5cae4c" stroke-width="1.15"/>
<line x1="173.9" y1="240.4" x2="173.9" y2="242.0" stroke="#8fcf7f" stroke-width="1.15"/>
<line x1="171.6" y1="230.5" x2="171.6" y2="232.0" stroke="#8fcf7f" stroke-width="1.15"/>
<line x1="164.1" y1="238.6" x2="165.0" y2="239.6" stroke="#4f9a45" stroke-width="1.15"/>
<line x1="182.2" y1="235.9" x2="182.9" y2="236.7" stroke="#5cae4c" stroke-width="1.15"/>
<line x1="178.1" y1="228.7" x2="178.1" y2="230.7" stroke="#4f9a45" stroke-width="1.15"/>
<line x1="163.2" y1="253.2" x2="162.0" y2="254.4" stroke="#5cae4c" stroke-width="1.15"/>
<line x1="164.5" y1="230.3" x2="166.5" y2="230.3" stroke="#5cae4c" stroke-width="1.15"/>
<line x1="179.5" y1="230.1" x2="180.5" y2="230.1" stroke="#6a7a66" stroke-width="1.15"/>
<line x1="155.7" y1="261.4" x2="154.7" y2="262.3" stroke="#4f9a45" stroke-width="1.15"/>
<line x1="163.8" y1="239.0" x2="165.2" y2="240.3" stroke="#8fcf7f" stroke-width="1.15"/>
<line x1="172.5" y1="236.4" x2="172.5" y2="237.8" stroke="#4f9a45" stroke-width="1.15"/>
<line x1="168.6" y1="226.5" x2="169.4" y2="227.2" stroke="#5cae4c" stroke-width="1.15"/>
<line x1="160.3" y1="244.1" x2="161.3" y2="245.2" stroke="#4f9a45" stroke-width="1.15"/>
<line x1="162.8" y1="233.5" x2="162.8" y2="234.6" stroke="#4f9a45" stroke-width="1.15"/>
<line x1="160.0" y1="265.4" x2="159.0" y2="266.4" stroke="#4f9a45" stroke-width="1.15"/>
<line x1="174.1" y1="227.3" x2="174.1" y2="228.5" stroke="#4f9a45" stroke-width="1.15"/>
<line x1="165.3" y1="252.2" x2="166.0" y2="252.9" stroke="#4f9a45" stroke-width="1.15"/>
<line x1="155.1" y1="229.1" x2="155.8" y2="229.8" stroke="#5cae4c" stroke-width="1.15"/>
<line x1="153.8" y1="242.7" x2="155.1" y2="244.0" stroke="#5cae4c" stroke-width="1.15"/>
<line x1="180.2" y1="219.8" x2="181.2" y2="220.8" stroke="#6a7a66" stroke-width="1.15"/>
<line x1="154.4" y1="255.6" x2="155.9" y2="255.6" stroke="#8fcf7f" stroke-width="1.15"/>
<line x1="147.9" y1="254.3" x2="147.9" y2="256.3" stroke="#5cae4c" stroke-width="1.15"/>
<line x1="173.0" y1="238.5" x2="173.9" y2="239.5" stroke="#8fcf7f" stroke-width="1.15"/>
<line x1="153.9" y1="266.3" x2="155.2" y2="267.6" stroke="#4f9a45" stroke-width="1.15"/>
<line x1="149.8" y1="266.6" x2="151.0" y2="267.8" stroke="#5cae4c" stroke-width="1.15"/>
<line x1="175.0" y1="232.0" x2="176.6" y2="232.0" stroke="#4f9a45" stroke-width="1.15"/>
<line x1="162.9" y1="238.5" x2="162.9" y2="239.8" stroke="#4f9a45" stroke-width="1.15"/>
<line x1="152.2" y1="248.2" x2="153.5" y2="249.5" stroke="#5cae4c" stroke-width="1.15"/>
<line x1="167.6" y1="235.7" x2="168.5" y2="236.6" stroke="#4f9a45" stroke-width="1.15"/>
<line x1="152.1" y1="255.0" x2="153.1" y2="255.0" stroke="#4f9a45" stroke-width="1.15"/>
<line x1="184.1" y1="224.0" x2="184.1" y2="225.5" stroke="#4f9a45" stroke-width="1.15"/>
<line x1="160.1" y1="248.5" x2="161.1" y2="249.5" stroke="#8fcf7f" stroke-width="1.15"/>
<line x1="166.4" y1="250.2" x2="167.4" y2="251.2" stroke="#5cae4c" stroke-width="1.15"/>
<line x1="171.1" y1="220.2" x2="171.1" y2="221.5" stroke="#4f9a45" stroke-width="1.15"/>
<line x1="174.7" y1="243.6" x2="175.5" y2="244.5" stroke="#5cae4c" stroke-width="1.15"/>
<line x1="183.8" y1="220.5" x2="182.8" y2="221.5" stroke="#4f9a45" stroke-width="1.15"/>
<line x1="162.9" y1="234.7" x2="163.8" y2="235.6" stroke="#5cae4c" stroke-width="1.15"/>
<line x1="143.4" y1="255.2" x2="144.6" y2="256.5" stroke="#4f9a45" stroke-width="1.15"/>
<line x1="160.8" y1="262.3" x2="159.8" y2="263.2" stroke="#4f9a45" stroke-width="1.15"/>
<line x1="154.9" y1="246.0" x2="155.7" y2="246.8" stroke="#4f9a45" stroke-width="1.15"/>
<line x1="161.2" y1="259.9" x2="160.6" y2="260.6" stroke="#5cae4c" stroke-width="1.15"/>
<line x1="170.3" y1="230.4" x2="170.3" y2="231.6" stroke="#5cae4c" stroke-width="1.15"/>
<line x1="170.8" y1="243.4" x2="169.6" y2="244.6" stroke="#5cae4c" stroke-width="1.15"/>
<line x1="160.3" y1="235.4" x2="161.7" y2="236.8" stroke="#4f9a45" stroke-width="1.15"/>
<line x1="180.9" y1="224.4" x2="181.8" y2="225.3" stroke="#5cae4c" stroke-width="1.15"/>
<line x1="179.2" y1="221.4" x2="178.1" y2="222.5" stroke="#4f9a45" stroke-width="1.15"/>
<line x1="171.0" y1="249.1" x2="171.0" y2="250.2" stroke="#6a7a66" stroke-width="1.15"/>
<line x1="185.1" y1="216.6" x2="185.9" y2="217.4" stroke="#4f9a45" stroke-width="1.15"/>
<line x1="153.5" y1="253.8" x2="154.7" y2="255.1" stroke="#5cae4c" stroke-width="1.15"/>
<line x1="149.2" y1="247.6" x2="149.2" y2="248.7" stroke="#6a7a66" stroke-width="1.15"/>
<line x1="161.1" y1="255.9" x2="162.8" y2="255.9" stroke="#4f9a45" stroke-width="1.15"/>
<line x1="172.9" y1="232.6" x2="173.8" y2="233.5" stroke="#5cae4c" stroke-width="1.15"/>
<line x1="190.2" y1="182.7" x2="191.8" y2="184.3" stroke="#3f9a3a" stroke-width="1.1"/>
<line x1="194.5" y1="184.9" x2="193.5" y2="185.9" stroke="#3f9a3a" stroke-width="1.1"/>
<line x1="207.2" y1="197.9" x2="208.3" y2="199.0" stroke="#3f9a3a" stroke-width="1.1"/>
<line x1="193.4" y1="182.8" x2="194.9" y2="184.3" stroke="#2f7a2c" stroke-width="1.1"/>
<line x1="194.8" y1="183.1" x2="196.7" y2="183.1" stroke="#72c262" stroke-width="1.1"/>
<line x1="209.5" y1="187.4" x2="208.1" y2="188.9" stroke="#2f7a2c" stroke-width="1.1"/>
<line x1="203.1" y1="206.0" x2="203.1" y2="207.1" stroke="#2f7a2c" stroke-width="1.1"/>
<line x1="200.5" y1="185.6" x2="201.9" y2="187.0" stroke="#2f7a2c" stroke-width="1.1"/>
<line x1="213.1" y1="209.4" x2="211.7" y2="210.7" stroke="#72c262" stroke-width="1.1"/>
<line x1="196.4" y1="195.7" x2="198.4" y2="197.7" stroke="#2f7a2c" stroke-width="1.1"/>
<line x1="214.3" y1="193.8" x2="214.3" y2="194.9" stroke="#3f9a3a" stroke-width="1.1"/>
<line x1="193.2" y1="178.6" x2="194.9" y2="178.6" stroke="#2f7a2c" stroke-width="1.1"/>
<line x1="212.8" y1="206.0" x2="215.3" y2="206.0" stroke="#2f7a2c" stroke-width="1.1"/>
<line x1="197.8" y1="195.2" x2="199.4" y2="196.8" stroke="#3f9a3a" stroke-width="1.1"/>
<line x1="203.1" y1="185.8" x2="201.2" y2="187.8" stroke="#72c262" stroke-width="1.1"/>
<line x1="214.5" y1="200.0" x2="215.9" y2="201.4" stroke="#2f7a2c" stroke-width="1.1"/>
<line x1="194.5" y1="176.3" x2="194.5" y2="178.1" stroke="#2f7a2c" stroke-width="1.1"/>
<line x1="200.3" y1="189.6" x2="201.7" y2="191.0" stroke="#72c262" stroke-width="1.1"/>
<line x1="209.4" y1="202.2" x2="210.5" y2="203.3" stroke="#3f9a3a" stroke-width="1.1"/>
<line x1="205.1" y1="182.1" x2="204.2" y2="183.0" stroke="#72c262" stroke-width="1.1"/>
<line x1="191.8" y1="188.5" x2="192.8" y2="188.5" stroke="#3f9a3a" stroke-width="1.1"/>
<line x1="195.1" y1="207.8" x2="195.1" y2="209.1" stroke="#72c262" stroke-width="1.1"/>
<line x1="202.2" y1="199.0" x2="202.2" y2="200.9" stroke="#72c262" stroke-width="1.1"/>
<line x1="214.4" y1="186.5" x2="216.3" y2="186.5" stroke="#2f7a2c" stroke-width="1.1"/>
<line x1="201.9" y1="181.5" x2="203.5" y2="183.1" stroke="#3f9a3a" stroke-width="1.1"/>
<line x1="208.6" y1="176.3" x2="209.7" y2="177.4" stroke="#2f7a2c" stroke-width="1.1"/>
<line x1="211.0" y1="207.1" x2="210.1" y2="208.1" stroke="#3f9a3a" stroke-width="1.1"/>
<line x1="210.6" y1="178.6" x2="210.6" y2="181.0" stroke="#3f9a3a" stroke-width="1.1"/>
<line x1="194.4" y1="202.9" x2="196.4" y2="202.9" stroke="#3f9a3a" stroke-width="1.1"/>
<line x1="189.6" y1="194.3" x2="191.7" y2="194.3" stroke="#3f9a3a" stroke-width="1.1"/>
<line x1="200.3" y1="211.0" x2="201.5" y2="212.2" stroke="#2f7a2c" stroke-width="1.1"/>
<line x1="204.6" y1="207.5" x2="203.6" y2="208.5" stroke="#2f7a2c" stroke-width="1.1"/>
<line x1="195.7" y1="204.9" x2="197.0" y2="206.1" stroke="#3f9a3a" stroke-width="1.1"/>
<line x1="199.9" y1="209.8" x2="199.1" y2="210.6" stroke="#3f9a3a" stroke-width="1.1"/>
<line x1="189.4" y1="206.9" x2="191.6" y2="206.9" stroke="#3f9a3a" stroke-width="1.1"/>
<line x1="193.3" y1="196.2" x2="194.1" y2="197.0" stroke="#72c262" stroke-width="1.1"/>
<line x1="201.1" y1="182.5" x2="203.8" y2="182.5" stroke="#72c262" stroke-width="1.1"/>
<line x1="210.5" y1="187.7" x2="211.3" y2="188.6" stroke="#3f9a3a" stroke-width="1.1"/>
<line x1="197.0" y1="179.1" x2="196.1" y2="180.0" stroke="#2f7a2c" stroke-width="1.1"/>
<line x1="196.4" y1="193.2" x2="196.4" y2="194.4" stroke="#3f9a3a" stroke-width="1.1"/>
<line x1="207.0" y1="189.9" x2="208.3" y2="189.9" stroke="#3f9a3a" stroke-width="1.1"/>
<line x1="207.3" y1="180.2" x2="206.4" y2="181.1" stroke="#3f9a3a" stroke-width="1.1"/>
<line x1="198.4" y1="193.2" x2="199.3" y2="194.0" stroke="#72c262" stroke-width="1.1"/>
<line x1="214.6" y1="206.3" x2="214.6" y2="207.7" stroke="#3f9a3a" stroke-width="1.1"/>
<line x1="205.4" y1="176.7" x2="206.6" y2="177.8" stroke="#2f7a2c" stroke-width="1.1"/>
<line x1="199.1" y1="201.9" x2="197.6" y2="203.4" stroke="#2f7a2c" stroke-width="1.1"/>
<line x1="194.5" y1="196.5" x2="194.5" y2="198.2" stroke="#2f7a2c" stroke-width="1.1"/>
<line x1="200.6" y1="176.1" x2="200.6" y2="178.2" stroke="#72c262" stroke-width="1.1"/>
<line x1="215.7" y1="205.5" x2="214.8" y2="206.3" stroke="#72c262" stroke-width="1.1"/>
<line x1="194.4" y1="198.5" x2="193.0" y2="199.9" stroke="#3f9a3a" stroke-width="1.1"/>
<line x1="196.0" y1="189.7" x2="196.0" y2="191.2" stroke="#2f7a2c" stroke-width="1.1"/>
<line x1="203.5" y1="187.0" x2="202.2" y2="188.3" stroke="#3f9a3a" stroke-width="1.1"/>
<line x1="197.3" y1="189.9" x2="197.3" y2="192.3" stroke="#3f9a3a" stroke-width="1.1"/>
<line x1="206.3" y1="185.3" x2="206.3" y2="187.0" stroke="#3f9a3a" stroke-width="1.1"/>
<line x1="193.5" y1="202.4" x2="193.5" y2="204.5" stroke="#72c262" stroke-width="1.1"/>
<line x1="197.1" y1="210.6" x2="197.1" y2="211.8" stroke="#72c262" stroke-width="1.1"/>
<line x1="203.5" y1="202.1" x2="203.5" y2="204.2" stroke="#2f7a2c" stroke-width="1.1"/>
<line x1="197.5" y1="206.5" x2="196.7" y2="207.3" stroke="#3f9a3a" stroke-width="1.1"/>
<line x1="189.5" y1="181.9" x2="191.5" y2="181.9" stroke="#2f7a2c" stroke-width="1.1"/>
<line x1="190.6" y1="200.6" x2="190.6" y2="202.3" stroke="#3f9a3a" stroke-width="1.1"/>
<line x1="208.2" y1="182.6" x2="206.7" y2="184.1" stroke="#3f9a3a" stroke-width="1.1"/>
<line x1="198.5" y1="206.7" x2="199.6" y2="207.8" stroke="#2f7a2c" stroke-width="1.1"/>
<line x1="204.3" y1="179.1" x2="204.3" y2="181.1" stroke="#3f9a3a" stroke-width="1.1"/>
<line x1="193.5" y1="181.7" x2="195.0" y2="183.3" stroke="#72c262" stroke-width="1.1"/>
<line x1="191.4" y1="191.1" x2="191.4" y2="192.1" stroke="#3f9a3a" stroke-width="1.1"/>
<line x1="190.5" y1="209.8" x2="189.5" y2="210.8" stroke="#72c262" stroke-width="1.1"/>
<line x1="198.8" y1="194.5" x2="200.7" y2="196.3" stroke="#3f9a3a" stroke-width="1.1"/>
<line x1="205.0" y1="203.9" x2="206.6" y2="205.5" stroke="#72c262" stroke-width="1.1"/>
<line x1="210.6" y1="189.8" x2="210.6" y2="191.9" stroke="#3f9a3a" stroke-width="1.1"/>
<line x1="197.1" y1="190.4" x2="197.1" y2="193.2" stroke="#72c262" stroke-width="1.1"/>
<line x1="188.4" y1="190.5" x2="188.4" y2="192.3" stroke="#3f9a3a" stroke-width="1.1"/>
<line x1="207.9" y1="211.9" x2="206.6" y2="213.2" stroke="#3f9a3a" stroke-width="1.1"/>
<line x1="209.7" y1="199.5" x2="209.7" y2="202.2" stroke="#2f7a2c" stroke-width="1.1"/>
<line x1="204.3" y1="177.0" x2="205.2" y2="177.9" stroke="#3f9a3a" stroke-width="1.1"/>
<line x1="197.1" y1="188.3" x2="197.1" y2="190.2" stroke="#3f9a3a" stroke-width="1.1"/>
<line x1="205.0" y1="179.7" x2="206.8" y2="181.6" stroke="#72c262" stroke-width="1.1"/>
<line x1="198.9" y1="194.8" x2="197.8" y2="195.9" stroke="#3f9a3a" stroke-width="1.1"/>
<line x1="209.2" y1="206.3" x2="210.2" y2="207.4" stroke="#3f9a3a" stroke-width="1.1"/>
<line x1="203.9" y1="181.6" x2="205.8" y2="183.5" stroke="#72c262" stroke-width="1.1"/>
<line x1="208.1" y1="208.7" x2="210.0" y2="210.6" stroke="#72c262" stroke-width="1.1"/>
<line x1="203.1" y1="188.4" x2="203.1" y2="190.8" stroke="#2f7a2c" stroke-width="1.1"/>
<line x1="202.7" y1="181.0" x2="200.8" y2="182.9" stroke="#2f7a2c" stroke-width="1.1"/>
<line x1="207.6" y1="212.1" x2="207.6" y2="213.3" stroke="#72c262" stroke-width="1.1"/>
<line x1="201.3" y1="201.9" x2="203.1" y2="203.8" stroke="#3f9a3a" stroke-width="1.1"/>
<line x1="210.1" y1="183.1" x2="211.9" y2="184.9" stroke="#3f9a3a" stroke-width="1.1"/>
<line x1="213.5" y1="199.2" x2="214.4" y2="200.1" stroke="#3f9a3a" stroke-width="1.1"/>
<line x1="193.4" y1="178.9" x2="193.4" y2="180.8" stroke="#2f7a2c" stroke-width="1.1"/>
<line x1="193.9" y1="197.0" x2="195.5" y2="198.6" stroke="#2f7a2c" stroke-width="1.1"/>
<line x1="206.8" y1="188.4" x2="207.6" y2="189.2" stroke="#3f9a3a" stroke-width="1.1"/>
<line x1="212.3" y1="189.9" x2="214.8" y2="189.9" stroke="#72c262" stroke-width="1.1"/>
<line x1="200.0" y1="181.3" x2="201.4" y2="181.3" stroke="#3f9a3a" stroke-width="1.1"/>
<line x1="215.6" y1="180.9" x2="213.9" y2="182.6" stroke="#3f9a3a" stroke-width="1.1"/>
<line x1="212.9" y1="195.7" x2="212.9" y2="197.4" stroke="#3f9a3a" stroke-width="1.1"/>
<line x1="202.3" y1="197.2" x2="204.5" y2="197.2" stroke="#3f9a3a" stroke-width="1.1"/>
<line x1="193.9" y1="209.9" x2="196.6" y2="209.9" stroke="#2f7a2c" stroke-width="1.1"/>
<line x1="215.7" y1="206.1" x2="214.8" y2="207.0" stroke="#3f9a3a" stroke-width="1.1"/>
<line x1="205.0" y1="180.8" x2="204.0" y2="181.8" stroke="#3f9a3a" stroke-width="1.1"/>
<line x1="210.7" y1="186.2" x2="210.7" y2="188.4" stroke="#3f9a3a" stroke-width="1.1"/>
<line x1="213.4" y1="184.9" x2="212.0" y2="186.3" stroke="#3f9a3a" stroke-width="1.1"/>
<line x1="204.1" y1="206.7" x2="203.4" y2="207.4" stroke="#2f7a2c" stroke-width="1.1"/>
<line x1="193.6" y1="196.2" x2="192.6" y2="197.3" stroke="#3f9a3a" stroke-width="1.1"/>
<line x1="189.6" y1="177.5" x2="190.6" y2="178.4" stroke="#2f7a2c" stroke-width="1.1"/>
<line x1="192.3" y1="212.0" x2="193.6" y2="213.4" stroke="#2f7a2c" stroke-width="1.1"/>
<line x1="212.9" y1="200.8" x2="214.8" y2="200.8" stroke="#2f7a2c" stroke-width="1.1"/>
<line x1="195.8" y1="200.6" x2="197.1" y2="201.9" stroke="#3f9a3a" stroke-width="1.1"/>
<line x1="207.7" y1="190.1" x2="208.9" y2="191.3" stroke="#3f9a3a" stroke-width="1.1"/>
<line x1="203.7" y1="205.5" x2="204.9" y2="206.7" stroke="#72c262" stroke-width="1.1"/>
<line x1="187.7" y1="183.3" x2="189.2" y2="184.8" stroke="#3f9a3a" stroke-width="1.1"/>
<line x1="199.7" y1="182.0" x2="202.1" y2="182.0" stroke="#3f9a3a" stroke-width="1.1"/>
<line x1="198.6" y1="196.5" x2="198.6" y2="198.5" stroke="#72c262" stroke-width="1.1"/>
<line x1="191.8" y1="194.7" x2="193.8" y2="196.7" stroke="#3f9a3a" stroke-width="1.1"/>
<line x1="194.9" y1="197.1" x2="195.6" y2="197.9" stroke="#3f9a3a" stroke-width="1.1"/>
<line x1="196.7" y1="199.7" x2="197.6" y2="200.6" stroke="#3f9a3a" stroke-width="1.1"/>
<line x1="188.1" y1="200.3" x2="190.0" y2="202.1" stroke="#3f9a3a" stroke-width="1.1"/>
<line x1="191.4" y1="211.1" x2="192.6" y2="212.3" stroke="#72c262" stroke-width="1.1"/>
<line x1="203.7" y1="193.1" x2="205.3" y2="194.7" stroke="#3f9a3a" stroke-width="1.1"/>
<line x1="199.3" y1="198.9" x2="199.3" y2="200.1" stroke="#3f9a3a" stroke-width="1.1"/>
<line x1="207.0" y1="203.1" x2="207.0" y2="205.7" stroke="#3f9a3a" stroke-width="1.1"/>
<line x1="208.1" y1="193.9" x2="209.3" y2="195.1" stroke="#3f9a3a" stroke-width="1.1"/>
<line x1="214.9" y1="206.9" x2="215.8" y2="207.8" stroke="#72c262" stroke-width="1.1"/>
<line x1="211.5" y1="190.5" x2="211.5" y2="192.8" stroke="#72c262" stroke-width="1.1"/>
<line x1="199.4" y1="196.9" x2="200.5" y2="198.0" stroke="#3f9a3a" stroke-width="1.1"/>
<line x1="212.9" y1="195.2" x2="212.9" y2="196.7" stroke="#2f7a2c" stroke-width="1.1"/>
<line x1="202.4" y1="191.5" x2="202.4" y2="193.5" stroke="#3f9a3a" stroke-width="1.1"/>
<line x1="212.9" y1="187.9" x2="212.9" y2="189.1" stroke="#3f9a3a" stroke-width="1.1"/>
<line x1="189.3" y1="202.0" x2="188.5" y2="202.8" stroke="#3f9a3a" stroke-width="1.1"/>
<line x1="190.2" y1="201.3" x2="190.2" y2="204.0" stroke="#72c262" stroke-width="1.1"/>
<line x1="190.2" y1="202.9" x2="189.2" y2="203.8" stroke="#3f9a3a" stroke-width="1.1"/>
<line x1="188.7" y1="197.8" x2="189.9" y2="197.8" stroke="#2f7a2c" stroke-width="1.1"/>
<line x1="187.5" y1="181.4" x2="190.3" y2="181.4" stroke="#2f7a2c" stroke-width="1.1"/>
<line x1="188.1" y1="194.6" x2="190.9" y2="194.6" stroke="#3f9a3a" stroke-width="1.1"/>
<line x1="188.7" y1="178.8" x2="190.1" y2="178.8" stroke="#3f9a3a" stroke-width="1.1"/>
<line x1="189.8" y1="194.9" x2="189.8" y2="195.9" stroke="#72c262" stroke-width="1.1"/>
<line x1="188.8" y1="187.3" x2="189.5" y2="188.1" stroke="#3f9a3a" stroke-width="1.1"/>
<line x1="188.8" y1="184.6" x2="190.0" y2="185.9" stroke="#3f9a3a" stroke-width="1.1"/>
<line x1="188.4" y1="208.9" x2="189.4" y2="208.9" stroke="#72c262" stroke-width="1.1"/>
<line x1="190.2" y1="199.4" x2="190.2" y2="201.2" stroke="#2f7a2c" stroke-width="1.1"/>
<line x1="190.5" y1="191.4" x2="189.7" y2="192.1" stroke="#3f9a3a" stroke-width="1.1"/>
<line x1="189.5" y1="184.2" x2="190.6" y2="185.3" stroke="#3f9a3a" stroke-width="1.1"/>
<path d="M40.3 175.9 L216.4 175.9 L216.4 294.7" fill="none" stroke="#1c1c1c" stroke-width="1.4"/>
<line x1="37.5" y1="175.9" x2="40.3" y2="175.9" stroke="#1c1c1c" stroke-width="1"/>
<line x1="40.4" y1="284.3" x2="40.4" y2="294.7" stroke="#1c1c1c" stroke-width="1.4"/>
<line x1="37.5" y1="294.7" x2="157" y2="294.7" stroke="#1c1c1c" stroke-width="1.4"/>
<line x1="200.4" y1="294.7" x2="216.4" y2="294.7" stroke="#1c1c1c" stroke-width="1.4"/>
<line x1="40.4" y1="294" x2="40.4" y2="297.5" stroke="#1c1c1c" stroke-width="0.8"/>
<line x1="216.4" y1="294" x2="216.4" y2="297.5" stroke="#1c1c1c" stroke-width="0.8"/>
<line x1="40.4" y1="284.3" x2="40.4" y2="184" stroke="#f2bcbc" stroke-width="1.5"/>
<path d="M36.2 189.6 L40.4 179.2 L44.6 189.6 L40.4 186.6 Z" fill="#f2b6b6"/>
<line x1="200.4" y1="294.7" x2="162" y2="294.7" stroke="#f5cd2a" stroke-width="1.4"/>
<path d="M156.9 294.7 L167.7 290.4 L164.6 294.7 L167.7 299.2 Z" fill="#f5c518"/>
<path d="M182.6 209.4 L190.2 216 M184 216.4 L189.6 209.2" stroke="#4ab8d8" stroke-width="1.1"/>
<text x="1.20" y="177.40" font-size="8.70" fill="#222" font-weight="normal" font-style="normal" text-anchor="start" textLength="32.20" lengthAdjust="spacingAndGlyphs" stroke="#222" stroke-width="0.22">140.4mb</text>
<text x="1.20" y="296.80" font-size="8.70" fill="#222" font-weight="normal" font-style="normal" text-anchor="start" textLength="32.80" lengthAdjust="spacingAndGlyphs" stroke="#222" stroke-width="0.22">140.7mb</text>
<text x="29.90" y="308.80" font-size="8.70" fill="#222" font-weight="normal" font-style="normal" text-anchor="start" textLength="28.10" lengthAdjust="spacingAndGlyphs" stroke="#222" stroke-width="0.22">95.2mb</text>
<text x="197.40" y="308.40" font-size="8.70" fill="#222" font-weight="normal" font-style="normal" text-anchor="start" textLength="28.80" lengthAdjust="spacingAndGlyphs" stroke="#222" stroke-width="0.22">95.6mb</text>
<text x="102" y="310.3" font-size="11.90" fill="#222" stroke="#222" stroke-width="0.4" textLength="55" lengthAdjust="spacingAndGlyphs">Partner = <tspan font-style="italic">BICD2</tspan></text>
<text transform="translate(34.6 262.7) rotate(-90)" x="0" y="0" font-size="11.90" fill="#222" stroke="#222" stroke-width="0.4" textLength="54.7" lengthAdjust="spacingAndGlyphs">Target = <tspan font-style="italic">BRAF</tspan></text>
<text x="43.20" y="235.60" font-size="10.48" fill="#111" font-weight="bold" font-style="italic" text-anchor="start" textLength="24.20" lengthAdjust="spacingAndGlyphs" stroke="#111" stroke-width="0.22">BRAF</text>
<text transform="translate(183.6 290.4) rotate(-90)" x="0" y="0" font-size="11.59" fill="#111" stroke="#111" stroke-width="0.2" font-weight="bold" font-style="italic" textLength="27.6" lengthAdjust="spacingAndGlyphs">BICD2</text>
<text x="234.60" y="11.40" font-size="12.60" fill="#111" font-weight="bold" font-style="normal" text-anchor="start" stroke="#111" stroke-width="0.45">C</text>
<rect x="272.3" y="22.3" width="4.6" height="4.4" fill="#7fcfc0"/>
<text x="281.00" y="27.60" font-size="9.37" fill="#2a2a2a" font-weight="normal" font-style="normal" text-anchor="start" textLength="167.70" lengthAdjust="spacingAndGlyphs" stroke="#2a2a2a" stroke-width="0.22">Microtubule-associated protein Bicaudal-D</text>
<rect x="248.3" y="31.6" width="240.1" height="14.6" fill="#fff"/>
<rect x="270.7" y="31.6" width="202.2" height="14.6" fill="#80cfc1"/>
<line x1="270.30" y1="32.60" x2="270.30" y2="45.60" stroke="#10201e" stroke-width="1.3" stroke-dasharray="3.2 1.6"/>
<line x1="290.10" y1="32.60" x2="290.10" y2="45.60" stroke="#10201e" stroke-width="1.3" stroke-dasharray="3.2 1.6"/>
<line x1="304.60" y1="32.60" x2="304.60" y2="45.60" stroke="#10201e" stroke-width="1.3" stroke-dasharray="3.2 1.6"/>
<line x1="347.10" y1="32.60" x2="347.10" y2="45.60" stroke="#10201e" stroke-width="1.3" stroke-dasharray="3.2 1.6"/>
<line x1="445.10" y1="32.60" x2="445.10" y2="45.60" stroke="#10201e" stroke-width="1.3" stroke-dasharray="3.2 1.6"/>
<line x1="459.50" y1="32.60" x2="459.50" y2="45.60" stroke="#10201e" stroke-width="1.3" stroke-dasharray="3.2 1.6"/>
<rect x="248.3" y="31.6" width="240.1" height="14.6" fill="none" stroke="#4a4a4a" stroke-width="1.1"/>
<text x="491.60" y="42.70" font-size="8.90" fill="#2a2a2a" font-weight="normal" font-style="italic" text-anchor="start" textLength="27.80" lengthAdjust="spacingAndGlyphs" stroke="#2a2a2a" stroke-width="0.22">BICD2</text>
<line x1="248.3" y1="50.4" x2="270.7" y2="50.4" stroke="#555" stroke-width="1.8"/>
<line x1="270.7" y1="50.6" x2="364" y2="68.1" stroke="#333" stroke-width="1" stroke-dasharray="2.4 1.6"/>
<line x1="364" y1="68.1" x2="487.6" y2="68.1" stroke="#333" stroke-width="1.1"/>
<text x="250.80" y="61.40" font-size="7.40" fill="#2a2a2a" font-weight="normal" font-style="normal" text-anchor="start" textLength="25.00" lengthAdjust="spacingAndGlyphs" stroke="#2a2a2a" stroke-width="0.22">exon 1</text>
<text x="371.00" y="64.50" font-size="7.40" fill="#2a2a2a" font-weight="normal" font-style="normal" text-anchor="start" textLength="39.20" lengthAdjust="spacingAndGlyphs" stroke="#2a2a2a" stroke-width="0.22">exon 9-18</text>
<rect x="248.3" y="72.8" width="240.1" height="15" fill="#fff"/>
<rect x="296.9" y="72.8" width="22.2" height="15" fill="#8dbbdc"/>
<rect x="321.7" y="72.8" width="13.5" height="15" fill="#b6b6b6"/>
<rect x="393.5" y="72.8" width="79.4" height="15" fill="#f8c62a"/>
<rect x="408" y="72.8" width="6.4" height="15" fill="#f5c02a"/>
<rect x="433.5" y="72.8" width="7.5" height="15" fill="#eed88a"/>
<line x1="261.90" y1="73.80" x2="261.90" y2="87.20" stroke="#10201e" stroke-width="1.3" stroke-dasharray="3.2 1.6"/>
<line x1="272.60" y1="73.80" x2="272.60" y2="87.20" stroke="#10201e" stroke-width="1.3" stroke-dasharray="3.2 1.6"/>
<line x1="300.40" y1="73.80" x2="300.40" y2="87.20" stroke="#10201e" stroke-width="1.3" stroke-dasharray="3.2 1.6"/>
<line x1="311.30" y1="73.80" x2="311.30" y2="87.20" stroke="#10201e" stroke-width="1.3" stroke-dasharray="3.2 1.6"/>
<line x1="322.00" y1="73.80" x2="322.00" y2="87.20" stroke="#10201e" stroke-width="1.3" stroke-dasharray="3.2 1.6"/>
<line x1="337.50" y1="73.80" x2="337.50" y2="87.20" stroke="#10201e" stroke-width="1.3" stroke-dasharray="3.2 1.6"/>
<line x1="350.00" y1="73.80" x2="350.00" y2="87.20" stroke="#10201e" stroke-width="1.3" stroke-dasharray="3.2 1.6"/>
<line x1="367.00" y1="73.80" x2="367.00" y2="87.20" stroke="#10201e" stroke-width="1.3" stroke-dasharray="3.2 1.6"/>
<line x1="370.70" y1="73.80" x2="370.70" y2="87.20" stroke="#10201e" stroke-width="1.3" stroke-dasharray="3.2 1.6"/>
<line x1="384.90" y1="73.80" x2="384.90" y2="87.20" stroke="#10201e" stroke-width="1.3" stroke-dasharray="3.2 1.6"/>
<line x1="397.20" y1="73.80" x2="397.20" y2="87.20" stroke="#10201e" stroke-width="1.3" stroke-dasharray="3.2 1.6"/>
<line x1="406.30" y1="73.80" x2="406.30" y2="87.20" stroke="#10201e" stroke-width="1.3" stroke-dasharray="3.2 1.6"/>
<line x1="424.80" y1="73.80" x2="424.80" y2="87.20" stroke="#10201e" stroke-width="1.3" stroke-dasharray="3.2 1.6"/>
<line x1="429.40" y1="73.80" x2="429.40" y2="87.20" stroke="#10201e" stroke-width="1.3" stroke-dasharray="3.2 1.6"/>
<line x1="442.00" y1="73.80" x2="442.00" y2="87.20" stroke="#10201e" stroke-width="1.3" stroke-dasharray="3.2 1.6"/>
<line x1="455.90" y1="73.80" x2="455.90" y2="87.20" stroke="#10201e" stroke-width="1.3" stroke-dasharray="3.2 1.6"/>
<line x1="470.10" y1="73.80" x2="470.10" y2="87.20" stroke="#10201e" stroke-width="1.3" stroke-dasharray="3.2 1.6"/>
<rect x="248.3" y="72.8" width="240.1" height="15" fill="none" stroke="#4a4a4a" stroke-width="1.1"/>
<text x="491.90" y="83.70" font-size="8.90" fill="#2a2a2a" font-weight="normal" font-style="italic" text-anchor="start" textLength="24.00" lengthAdjust="spacingAndGlyphs" stroke="#2a2a2a" stroke-width="0.22">BRAF</text>
<rect x="251.8" y="92.3" width="4.5" height="4.3" fill="#7fa9d0"/>
<text x="260.40" y="96.60" font-size="7.00" fill="#333" font-weight="normal" font-style="normal" text-anchor="start" textLength="64.40" lengthAdjust="spacingAndGlyphs" stroke="#333" stroke-width="0.22">RAS-binding domain</text>
<rect x="333.8" y="92.1" width="4.2" height="4.2" fill="#b8b8b8"/>
<text x="343.00" y="96.60" font-size="7.00" fill="#333" font-weight="normal" font-style="normal" text-anchor="start" stroke="#333" stroke-width="0.22">C1 domain</text>
<rect x="395.5" y="92.1" width="4.5" height="4.3" fill="#f7c62c"/>
<text x="403.50" y="96.60" font-size="7.00" fill="#333" font-weight="normal" font-style="normal" text-anchor="start" textLength="74.30" lengthAdjust="spacingAndGlyphs" stroke="#333" stroke-width="0.22">Catalytic kinase domain</text>
<text x="235.00" y="152.00" font-size="12.60" fill="#111" font-weight="bold" font-style="normal" text-anchor="start" stroke="#111" stroke-width="0.45">D</text>
<path d="M348.39 170.28 A65.4 65.4 0 0 1 366.04 173.61" fill="none" stroke="#9a9a9a" stroke-width="1.3"/>
<line x1="348.47" y1="168.68" x2="348.55" y2="167.08" stroke="#9a9a9a" stroke-opacity="0.55" stroke-width="0.6"/>
<line x1="351.54" y1="168.90" x2="351.69" y2="167.31" stroke="#9a9a9a" stroke-opacity="0.55" stroke-width="0.6"/>
<line x1="354.59" y1="169.26" x2="354.82" y2="167.68" stroke="#9a9a9a" stroke-opacity="0.55" stroke-width="0.6"/>
<line x1="357.63" y1="169.76" x2="357.92" y2="168.19" stroke="#9a9a9a" stroke-opacity="0.55" stroke-width="0.6"/>
<line x1="360.64" y1="170.40" x2="361.00" y2="168.85" stroke="#9a9a9a" stroke-opacity="0.55" stroke-width="0.6"/>
<line x1="363.61" y1="171.18" x2="364.05" y2="169.64" stroke="#9a9a9a" stroke-opacity="0.55" stroke-width="0.6"/>
<line x1="366.55" y1="172.09" x2="367.06" y2="170.58" stroke="#9a9a9a" stroke-opacity="0.55" stroke-width="0.6"/>
<text x="356.31" y="178.24" font-size="4.2" fill="#666" text-anchor="middle">X</text>
<path d="M368.08 174.33 A65.4 65.4 0 0 1 374.37 177.06" fill="none" stroke="#b8b8b8" stroke-width="1.3"/>
<line x1="368.64" y1="172.83" x2="369.20" y2="171.34" stroke="#b8b8b8" stroke-opacity="0.55" stroke-width="0.6"/>
<line x1="371.90" y1="174.15" x2="372.53" y2="172.68" stroke="#b8b8b8" stroke-opacity="0.55" stroke-width="0.6"/>
<line x1="375.08" y1="175.63" x2="375.79" y2="174.20" stroke="#b8b8b8" stroke-opacity="0.55" stroke-width="0.6"/>
<text x="369.07" y="182.16" font-size="4.2" fill="#666" text-anchor="middle">Y</text>
<path d="M376.29 178.06 A65.4 65.4 0 0 1 397.93 196.91" fill="none" stroke="#8a6a3c" stroke-width="1.3"/>
<line x1="377.05" y1="176.66" x2="377.81" y2="175.25" stroke="#8a6a3c" stroke-opacity="0.55" stroke-width="0.6"/>
<line x1="379.91" y1="178.29" x2="380.74" y2="176.92" stroke="#8a6a3c" stroke-opacity="0.55" stroke-width="0.6"/>
<line x1="382.68" y1="180.07" x2="383.58" y2="178.74" stroke="#8a6a3c" stroke-opacity="0.55" stroke-width="0.6"/>
<line x1="385.37" y1="181.98" x2="386.33" y2="180.69" stroke="#8a6a3c" stroke-opacity="0.55" stroke-width="0.6"/>
<line x1="387.95" y1="184.01" x2="388.97" y2="182.78" stroke="#8a6a3c" stroke-opacity="0.55" stroke-width="0.6"/>
<line x1="390.44" y1="186.18" x2="391.52" y2="185.00" stroke="#8a6a3c" stroke-opacity="0.55" stroke-width="0.6"/>
<line x1="392.81" y1="188.46" x2="393.95" y2="187.33" stroke="#8a6a3c" stroke-opacity="0.55" stroke-width="0.6"/>
<line x1="395.07" y1="190.86" x2="396.26" y2="189.79" stroke="#8a6a3c" stroke-opacity="0.55" stroke-width="0.6"/>
<line x1="397.21" y1="193.36" x2="398.45" y2="192.35" stroke="#8a6a3c" stroke-opacity="0.55" stroke-width="0.6"/>
<line x1="399.22" y1="195.97" x2="400.51" y2="195.02" stroke="#8a6a3c" stroke-opacity="0.55" stroke-width="0.6"/>
<text x="384.54" y="191.93" font-size="4.2" fill="#666" text-anchor="middle">Chr1</text>
<path d="M399.18 198.68 A65.4 65.4 0 0 1 409.68 224.66" fill="none" stroke="#6e6a3a" stroke-width="1.3"/>
<line x1="400.50" y1="197.78" x2="401.83" y2="196.88" stroke="#6e6a3a" stroke-opacity="0.55" stroke-width="0.6"/>
<line x1="402.25" y1="200.48" x2="403.62" y2="199.64" stroke="#6e6a3a" stroke-opacity="0.55" stroke-width="0.6"/>
<line x1="403.87" y1="203.25" x2="405.27" y2="202.48" stroke="#6e6a3a" stroke-opacity="0.55" stroke-width="0.6"/>
<line x1="405.36" y1="206.10" x2="406.79" y2="205.40" stroke="#6e6a3a" stroke-opacity="0.55" stroke-width="0.6"/>
<line x1="406.70" y1="209.02" x2="408.17" y2="208.39" stroke="#6e6a3a" stroke-opacity="0.55" stroke-width="0.6"/>
<line x1="407.91" y1="212.00" x2="409.40" y2="211.44" stroke="#6e6a3a" stroke-opacity="0.55" stroke-width="0.6"/>
<line x1="408.97" y1="215.03" x2="410.49" y2="214.54" stroke="#6e6a3a" stroke-opacity="0.55" stroke-width="0.6"/>
<line x1="409.88" y1="218.12" x2="411.42" y2="217.70" stroke="#6e6a3a" stroke-opacity="0.55" stroke-width="0.6"/>
<line x1="410.64" y1="221.24" x2="412.21" y2="220.90" stroke="#6e6a3a" stroke-opacity="0.55" stroke-width="0.6"/>
<line x1="411.26" y1="224.39" x2="412.83" y2="224.13" stroke="#6e6a3a" stroke-opacity="0.55" stroke-width="0.6"/>
<text x="400.74" y="214.66" font-size="4.2" fill="#666" text-anchor="middle">2</text>
<path d="M410.01 226.80 A65.4 65.4 0 0 1 409.07 249.67" fill="none" stroke="#8f8f5a" stroke-width="1.3"/>
<line x1="411.59" y1="226.59" x2="413.18" y2="226.37" stroke="#8f8f5a" stroke-opacity="0.55" stroke-width="0.6"/>
<line x1="411.96" y1="229.94" x2="413.55" y2="229.80" stroke="#8f8f5a" stroke-opacity="0.55" stroke-width="0.6"/>
<line x1="412.16" y1="233.30" x2="413.76" y2="233.24" stroke="#8f8f5a" stroke-opacity="0.55" stroke-width="0.6"/>
<line x1="412.19" y1="236.66" x2="413.79" y2="236.69" stroke="#8f8f5a" stroke-opacity="0.55" stroke-width="0.6"/>
<line x1="412.05" y1="240.03" x2="413.65" y2="240.13" stroke="#8f8f5a" stroke-opacity="0.55" stroke-width="0.6"/>
<line x1="411.75" y1="243.38" x2="413.34" y2="243.57" stroke="#8f8f5a" stroke-opacity="0.55" stroke-width="0.6"/>
<line x1="411.27" y1="246.71" x2="412.85" y2="246.98" stroke="#8f8f5a" stroke-opacity="0.55" stroke-width="0.6"/>
<line x1="410.63" y1="250.02" x2="412.19" y2="250.36" stroke="#8f8f5a" stroke-opacity="0.55" stroke-width="0.6"/>
<text x="405.05" y="239.56" font-size="4.2" fill="#666" text-anchor="middle">3</text>
<path d="M408.57 251.78 A65.4 65.4 0 0 1 399.56 271.95" fill="none" stroke="#b0283c" stroke-width="1.3"/>
<line x1="410.12" y1="252.18" x2="411.67" y2="252.58" stroke="#b0283c" stroke-opacity="0.55" stroke-width="0.6"/>
<line x1="409.24" y1="255.31" x2="410.77" y2="255.78" stroke="#b0283c" stroke-opacity="0.55" stroke-width="0.6"/>
<line x1="408.21" y1="258.39" x2="409.71" y2="258.93" stroke="#b0283c" stroke-opacity="0.55" stroke-width="0.6"/>
<line x1="407.03" y1="261.41" x2="408.50" y2="262.03" stroke="#b0283c" stroke-opacity="0.55" stroke-width="0.6"/>
<line x1="405.70" y1="264.38" x2="407.15" y2="265.07" stroke="#b0283c" stroke-opacity="0.55" stroke-width="0.6"/>
<line x1="404.24" y1="267.28" x2="405.65" y2="268.03" stroke="#b0283c" stroke-opacity="0.55" stroke-width="0.6"/>
<line x1="402.63" y1="270.10" x2="404.01" y2="270.92" stroke="#b0283c" stroke-opacity="0.55" stroke-width="0.6"/>
<line x1="400.89" y1="272.84" x2="402.22" y2="273.73" stroke="#b0283c" stroke-opacity="0.55" stroke-width="0.6"/>
<text x="399.90" y="261.51" font-size="4.2" fill="#666" text-anchor="middle">4</text>
<path d="M398.33 273.74 A65.4 65.4 0 0 1 383.55 288.57" fill="none" stroke="#c43a4a" stroke-width="1.3"/>
<line x1="399.63" y1="274.67" x2="400.93" y2="275.60" stroke="#c43a4a" stroke-opacity="0.55" stroke-width="0.6"/>
<line x1="397.78" y1="277.13" x2="399.03" y2="278.12" stroke="#c43a4a" stroke-opacity="0.55" stroke-width="0.6"/>
<line x1="395.81" y1="279.50" x2="397.02" y2="280.55" stroke="#c43a4a" stroke-opacity="0.55" stroke-width="0.6"/>
<line x1="393.75" y1="281.78" x2="394.90" y2="282.88" stroke="#c43a4a" stroke-opacity="0.55" stroke-width="0.6"/>
<line x1="391.57" y1="283.96" x2="392.68" y2="285.11" stroke="#c43a4a" stroke-opacity="0.55" stroke-width="0.6"/>
<line x1="389.30" y1="286.04" x2="390.36" y2="287.24" stroke="#c43a4a" stroke-opacity="0.55" stroke-width="0.6"/>
<line x1="386.94" y1="288.01" x2="387.94" y2="289.26" stroke="#c43a4a" stroke-opacity="0.55" stroke-width="0.6"/>
<line x1="384.49" y1="289.87" x2="385.43" y2="291.17" stroke="#c43a4a" stroke-opacity="0.55" stroke-width="0.6"/>
<text x="387.64" y="279.37" font-size="4.2" fill="#666" text-anchor="middle">5</text>
<path d="M381.77 289.82 A65.4 65.4 0 0 1 363.88 298.28" fill="none" stroke="#9a4a8a" stroke-width="1.3"/>
<line x1="382.67" y1="291.14" x2="383.56" y2="292.47" stroke="#9a4a8a" stroke-opacity="0.55" stroke-width="0.6"/>
<line x1="379.81" y1="292.97" x2="380.64" y2="294.34" stroke="#9a4a8a" stroke-opacity="0.55" stroke-width="0.6"/>
<line x1="376.86" y1="294.65" x2="377.62" y2="296.06" stroke="#9a4a8a" stroke-opacity="0.55" stroke-width="0.6"/>
<line x1="373.83" y1="296.17" x2="374.52" y2="297.62" stroke="#9a4a8a" stroke-opacity="0.55" stroke-width="0.6"/>
<line x1="370.73" y1="297.55" x2="371.34" y2="299.02" stroke="#9a4a8a" stroke-opacity="0.55" stroke-width="0.6"/>
<line x1="367.56" y1="298.76" x2="368.10" y2="300.27" stroke="#9a4a8a" stroke-opacity="0.55" stroke-width="0.6"/>
<line x1="364.34" y1="299.81" x2="364.79" y2="301.34" stroke="#9a4a8a" stroke-opacity="0.55" stroke-width="0.6"/>
<text x="370.80" y="291.25" font-size="4.2" fill="#666" text-anchor="middle">6</text>
<path d="M361.79 298.86 A65.4 65.4 0 0 1 343.50 300.98" fill="none" stroke="#d9b8c0" stroke-width="1.3"/>
<line x1="362.20" y1="300.41" x2="362.60" y2="301.96" stroke="#d9b8c0" stroke-opacity="0.55" stroke-width="0.6"/>
<line x1="359.13" y1="301.14" x2="359.46" y2="302.70" stroke="#d9b8c0" stroke-opacity="0.55" stroke-width="0.6"/>
<line x1="356.03" y1="301.72" x2="356.29" y2="303.30" stroke="#d9b8c0" stroke-opacity="0.55" stroke-width="0.6"/>
<line x1="352.90" y1="302.16" x2="353.09" y2="303.75" stroke="#d9b8c0" stroke-opacity="0.55" stroke-width="0.6"/>
<line x1="349.76" y1="302.44" x2="349.87" y2="304.04" stroke="#d9b8c0" stroke-opacity="0.55" stroke-width="0.6"/>
<line x1="346.61" y1="302.59" x2="346.64" y2="304.18" stroke="#d9b8c0" stroke-opacity="0.55" stroke-width="0.6"/>
<line x1="343.46" y1="302.58" x2="343.42" y2="304.18" stroke="#d9b8c0" stroke-opacity="0.55" stroke-width="0.6"/>
<text x="352.09" y="296.60" font-size="4.2" fill="#666" text-anchor="middle">7</text>
<path d="M341.33 300.89 A65.4 65.4 0 0 1 324.72 297.71" fill="none" stroke="#c0b060" stroke-width="1.3"/>
<line x1="341.24" y1="302.48" x2="341.14" y2="304.08" stroke="#c0b060" stroke-opacity="0.55" stroke-width="0.6"/>
<line x1="337.77" y1="302.19" x2="337.60" y2="303.78" stroke="#c0b060" stroke-opacity="0.55" stroke-width="0.6"/>
<line x1="334.33" y1="301.71" x2="334.07" y2="303.29" stroke="#c0b060" stroke-opacity="0.55" stroke-width="0.6"/>
<line x1="330.92" y1="301.06" x2="330.58" y2="302.62" stroke="#c0b060" stroke-opacity="0.55" stroke-width="0.6"/>
<line x1="327.54" y1="300.23" x2="327.12" y2="301.77" stroke="#c0b060" stroke-opacity="0.55" stroke-width="0.6"/>
<line x1="324.21" y1="299.23" x2="323.71" y2="300.75" stroke="#c0b060" stroke-opacity="0.55" stroke-width="0.6"/>
<text x="333.95" y="295.93" font-size="4.2" fill="#666" text-anchor="middle">8</text>
<path d="M322.67 297.00 A65.4 65.4 0 0 1 308.15 289.49" fill="none" stroke="#d8c850" stroke-width="1.3"/>
<line x1="322.12" y1="298.50" x2="321.56" y2="300.00" stroke="#d8c850" stroke-opacity="0.55" stroke-width="0.6"/>
<line x1="318.99" y1="297.26" x2="318.37" y2="298.74" stroke="#d8c850" stroke-opacity="0.55" stroke-width="0.6"/>
<line x1="315.94" y1="295.87" x2="315.24" y2="297.31" stroke="#d8c850" stroke-opacity="0.55" stroke-width="0.6"/>
<line x1="312.96" y1="294.33" x2="312.19" y2="295.73" stroke="#d8c850" stroke-opacity="0.55" stroke-width="0.6"/>
<line x1="310.06" y1="292.64" x2="309.22" y2="294.01" stroke="#d8c850" stroke-opacity="0.55" stroke-width="0.6"/>
<line x1="307.24" y1="290.81" x2="306.34" y2="292.13" stroke="#d8c850" stroke-opacity="0.55" stroke-width="0.6"/>
<text x="317.70" y="290.31" font-size="4.2" fill="#666" text-anchor="middle">9</text>
<path d="M306.38 288.24 A65.4 65.4 0 0 1 294.92 277.42" fill="none" stroke="#c8c840" stroke-width="1.3"/>
<line x1="305.43" y1="289.52" x2="304.48" y2="290.81" stroke="#c8c840" stroke-opacity="0.55" stroke-width="0.6"/>
<line x1="302.88" y1="287.54" x2="301.86" y2="288.78" stroke="#c8c840" stroke-opacity="0.55" stroke-width="0.6"/>
<line x1="300.42" y1="285.43" x2="299.35" y2="286.62" stroke="#c8c840" stroke-opacity="0.55" stroke-width="0.6"/>
<line x1="298.06" y1="283.21" x2="296.93" y2="284.35" stroke="#c8c840" stroke-opacity="0.55" stroke-width="0.6"/>
<line x1="295.82" y1="280.88" x2="294.64" y2="281.96" stroke="#c8c840" stroke-opacity="0.55" stroke-width="0.6"/>
<line x1="293.69" y1="278.44" x2="292.46" y2="279.46" stroke="#c8c840" stroke-opacity="0.55" stroke-width="0.6"/>
<text x="304.10" y="280.67" font-size="4.2" fill="#666" text-anchor="middle">10</text>
<path d="M293.56 275.73 A65.4 65.4 0 0 1 285.50 262.31" fill="none" stroke="#a8b848" stroke-width="1.3"/>
<line x1="292.29" y1="276.71" x2="291.03" y2="277.69" stroke="#a8b848" stroke-opacity="0.55" stroke-width="0.6"/>
<line x1="290.38" y1="274.12" x2="289.07" y2="275.04" stroke="#a8b848" stroke-opacity="0.55" stroke-width="0.6"/>
<line x1="288.60" y1="271.45" x2="287.25" y2="272.31" stroke="#a8b848" stroke-opacity="0.55" stroke-width="0.6"/>
<line x1="286.94" y1="268.70" x2="285.55" y2="269.49" stroke="#a8b848" stroke-opacity="0.55" stroke-width="0.6"/>
<line x1="285.42" y1="265.86" x2="284.00" y2="266.59" stroke="#a8b848" stroke-opacity="0.55" stroke-width="0.6"/>
<line x1="284.04" y1="262.96" x2="282.58" y2="263.62" stroke="#a8b848" stroke-opacity="0.55" stroke-width="0.6"/>
<text x="293.84" y="267.93" font-size="4.2" fill="#666" text-anchor="middle">11</text>
<path d="M284.65 260.32 A65.4 65.4 0 0 1 280.53 245.34" fill="none" stroke="#6a9a4a" stroke-width="1.3"/>
<line x1="283.17" y1="260.92" x2="281.69" y2="261.53" stroke="#6a9a4a" stroke-opacity="0.55" stroke-width="0.6"/>
<line x1="282.03" y1="257.94" x2="280.53" y2="258.47" stroke="#6a9a4a" stroke-opacity="0.55" stroke-width="0.6"/>
<line x1="281.04" y1="254.91" x2="279.51" y2="255.37" stroke="#6a9a4a" stroke-opacity="0.55" stroke-width="0.6"/>
<line x1="280.20" y1="251.83" x2="278.64" y2="252.22" stroke="#6a9a4a" stroke-opacity="0.55" stroke-width="0.6"/>
<line x1="279.50" y1="248.72" x2="277.93" y2="249.03" stroke="#6a9a4a" stroke-opacity="0.55" stroke-width="0.6"/>
<line x1="278.95" y1="245.58" x2="277.36" y2="245.82" stroke="#6a9a4a" stroke-opacity="0.55" stroke-width="0.6"/>
<text x="287.45" y="252.99" font-size="4.2" fill="#666" text-anchor="middle">12</text>
<path d="M280.24 243.19 A65.4 65.4 0 0 1 280.05 229.85" fill="none" stroke="#4a7a3a" stroke-width="1.3"/>
<line x1="278.65" y1="243.37" x2="277.06" y2="243.56" stroke="#4a7a3a" stroke-opacity="0.55" stroke-width="0.6"/>
<line x1="278.34" y1="239.97" x2="276.75" y2="240.07" stroke="#4a7a3a" stroke-opacity="0.55" stroke-width="0.6"/>
<line x1="278.21" y1="236.55" x2="276.61" y2="236.57" stroke="#4a7a3a" stroke-opacity="0.55" stroke-width="0.6"/>
<line x1="278.25" y1="233.13" x2="276.65" y2="233.07" stroke="#4a7a3a" stroke-opacity="0.55" stroke-width="0.6"/>
<line x1="278.46" y1="229.71" x2="276.87" y2="229.57" stroke="#4a7a3a" stroke-opacity="0.55" stroke-width="0.6"/>
<text x="285.31" y="237.95" font-size="4.2" fill="#666" text-anchor="middle">13</text>
<path d="M280.28 227.69 A65.4 65.4 0 0 1 282.94 215.57" fill="none" stroke="#2a3a8a" stroke-width="1.3"/>
<line x1="278.69" y1="227.50" x2="277.10" y2="227.31" stroke="#2a3a8a" stroke-opacity="0.55" stroke-width="0.6"/>
<line x1="279.15" y1="224.35" x2="277.57" y2="224.08" stroke="#2a3a8a" stroke-opacity="0.55" stroke-width="0.6"/>
<line x1="279.76" y1="221.22" x2="278.20" y2="220.88" stroke="#2a3a8a" stroke-opacity="0.55" stroke-width="0.6"/>
<line x1="280.52" y1="218.13" x2="278.97" y2="217.71" stroke="#2a3a8a" stroke-opacity="0.55" stroke-width="0.6"/>
<line x1="281.42" y1="215.08" x2="279.90" y2="214.59" stroke="#2a3a8a" stroke-opacity="0.55" stroke-width="0.6"/>
<text x="286.70" y="224.25" font-size="4.2" fill="#666" text-anchor="middle">14</text>
<path d="M283.64 213.52 A65.4 65.4 0 0 1 288.69 202.68" fill="none" stroke="#5a7ab8" stroke-width="1.3"/>
<line x1="282.14" y1="212.97" x2="280.63" y2="212.43" stroke="#5a7ab8" stroke-opacity="0.55" stroke-width="0.6"/>
<line x1="283.24" y1="210.11" x2="281.76" y2="209.51" stroke="#5a7ab8" stroke-opacity="0.55" stroke-width="0.6"/>
<line x1="284.47" y1="207.31" x2="283.02" y2="206.63" stroke="#5a7ab8" stroke-opacity="0.55" stroke-width="0.6"/>
<line x1="285.82" y1="204.56" x2="284.41" y2="203.82" stroke="#5a7ab8" stroke-opacity="0.55" stroke-width="0.6"/>
<line x1="287.31" y1="201.88" x2="285.92" y2="201.07" stroke="#5a7ab8" stroke-opacity="0.55" stroke-width="0.6"/>
<text x="290.90" y="211.81" font-size="4.2" fill="#666" text-anchor="middle">15</text>
<path d="M289.81 200.83 A65.4 65.4 0 0 1 296.05 192.45" fill="none" stroke="#8aa8d0" stroke-width="1.3"/>
<line x1="288.46" y1="199.98" x2="287.10" y2="199.12" stroke="#8aa8d0" stroke-opacity="0.55" stroke-width="0.6"/>
<line x1="290.43" y1="197.00" x2="289.13" y2="196.08" stroke="#8aa8d0" stroke-opacity="0.55" stroke-width="0.6"/>
<line x1="292.57" y1="194.14" x2="291.31" y2="193.15" stroke="#8aa8d0" stroke-opacity="0.55" stroke-width="0.6"/>
<line x1="294.85" y1="191.39" x2="293.65" y2="190.34" stroke="#8aa8d0" stroke-opacity="0.55" stroke-width="0.6"/>
<text x="297.18" y="201.30" font-size="4.2" fill="#666" text-anchor="middle">16</text>
<path d="M297.51 190.84 A65.4 65.4 0 0 1 304.42 184.47" fill="none" stroke="#9ab8d8" stroke-width="1.3"/>
<line x1="296.35" y1="189.75" x2="295.18" y2="188.65" stroke="#9ab8d8" stroke-opacity="0.55" stroke-width="0.6"/>
<line x1="298.60" y1="187.46" x2="297.49" y2="186.31" stroke="#9ab8d8" stroke-opacity="0.55" stroke-width="0.6"/>
<line x1="300.96" y1="185.28" x2="299.91" y2="184.08" stroke="#9ab8d8" stroke-opacity="0.55" stroke-width="0.6"/>
<line x1="303.43" y1="183.22" x2="302.43" y2="181.97" stroke="#9ab8d8" stroke-opacity="0.55" stroke-width="0.6"/>
<text x="304.58" y="193.07" font-size="4.2" fill="#666" text-anchor="middle">17</text>
<path d="M306.14 183.14 A65.4 65.4 0 0 1 313.76 178.25" fill="none" stroke="#a8b8d0" stroke-width="1.3"/>
<line x1="305.19" y1="181.86" x2="304.23" y2="180.58" stroke="#a8b8d0" stroke-opacity="0.55" stroke-width="0.6"/>
<line x1="307.71" y1="180.07" x2="306.82" y2="178.74" stroke="#a8b8d0" stroke-opacity="0.55" stroke-width="0.6"/>
<line x1="310.32" y1="178.40" x2="309.48" y2="177.03" stroke="#a8b8d0" stroke-opacity="0.55" stroke-width="0.6"/>
<line x1="312.99" y1="176.85" x2="312.22" y2="175.45" stroke="#a8b8d0" stroke-opacity="0.55" stroke-width="0.6"/>
<text x="312.84" y="186.69" font-size="4.2" fill="#666" text-anchor="middle">18</text>
<path d="M315.68 177.24 A65.4 65.4 0 0 1 321.95 174.47" fill="none" stroke="#4a3a8a" stroke-width="1.3"/>
<line x1="314.96" y1="175.81" x2="314.24" y2="174.39" stroke="#4a3a8a" stroke-opacity="0.55" stroke-width="0.6"/>
<line x1="318.13" y1="174.31" x2="317.49" y2="172.85" stroke="#4a3a8a" stroke-opacity="0.55" stroke-width="0.6"/>
<line x1="321.38" y1="172.98" x2="320.81" y2="171.48" stroke="#4a3a8a" stroke-opacity="0.55" stroke-width="0.6"/>
<text x="321.00" y="182.31" font-size="4.2" fill="#666" text-anchor="middle">19</text>
<path d="M323.99 173.73 A65.4 65.4 0 0 1 331.03 171.75" fill="none" stroke="#6a5aa8" stroke-width="1.3"/>
<line x1="323.47" y1="172.22" x2="322.95" y2="170.71" stroke="#6a5aa8" stroke-opacity="0.55" stroke-width="0.6"/>
<line x1="327.05" y1="171.11" x2="326.62" y2="169.57" stroke="#6a5aa8" stroke-opacity="0.55" stroke-width="0.6"/>
<line x1="330.69" y1="170.19" x2="330.34" y2="168.63" stroke="#6a5aa8" stroke-opacity="0.55" stroke-width="0.6"/>
<text x="328.97" y="179.44" font-size="4.2" fill="#666" text-anchor="middle">20</text>
<path d="M333.16 171.32 A65.4 65.4 0 0 1 338.68 170.53" fill="none" stroke="#9a90c0" stroke-width="1.3"/>
<line x1="332.86" y1="169.75" x2="332.57" y2="168.17" stroke="#9a90c0" stroke-opacity="0.55" stroke-width="0.6"/>
<line x1="338.52" y1="168.93" x2="338.36" y2="167.34" stroke="#9a90c0" stroke-opacity="0.55" stroke-width="0.6"/>
<text x="336.69" y="177.81" font-size="4.2" fill="#666" text-anchor="middle">21</text>
<path d="M340.84 170.35 A65.4 65.4 0 0 1 346.76 170.22" fill="none" stroke="#8a8a8a" stroke-width="1.3"/>
<line x1="340.73" y1="168.75" x2="340.62" y2="167.15" stroke="#8a8a8a" stroke-opacity="0.55" stroke-width="0.6"/>
<line x1="343.76" y1="168.62" x2="343.73" y2="167.02" stroke="#8a8a8a" stroke-opacity="0.55" stroke-width="0.6"/>
<line x1="346.80" y1="168.62" x2="346.84" y2="167.02" stroke="#8a8a8a" stroke-opacity="0.55" stroke-width="0.6"/>
<text x="343.92" y="177.21" font-size="4.2" fill="#666" text-anchor="middle">22</text>
<path d="M286.75 208.56 Q345.20 235.60 345.70 300.00" fill="none" stroke="#555a66" stroke-width="1.0" stroke-opacity="1"/>
<line x1="286.75" y1="208.56" x2="275.20" y2="202.30" stroke="#555a66" stroke-width="0.8" stroke-opacity="0.9"/>
<path d="M383.35 183.72 Q345.20 235.60 345.70 300.00" fill="none" stroke="#55524a" stroke-width="0.9" stroke-opacity="1"/>
<line x1="383.35" y1="183.72" x2="392.00" y2="173.80" stroke="#55524a" stroke-width="0.8" stroke-opacity="0.9"/>
<line x1="346.0" y1="158" x2="346.0" y2="171" stroke="#7a7a7a" stroke-width="0.9"/>
<line x1="346.0" y1="170.5" x2="345.70" y2="300.00" stroke="#6a6a6a" stroke-width="2.0"/>
<path d="M349.7 162 L349.7 172 Q347.5 240 346.30 300.00" fill="none" stroke="#8a8a8a" stroke-width="1.0"/>
<path d="M311.7 290.2 C326 268 336 246 341 248 C345.5 250 344.6 280 345.70 300.00" fill="none" stroke="#e8a820" stroke-width="1.9"/>
<path d="M319.5 298.5 C330 276 338 252 341.5 256 C344.5 262 344.2 285 345.70 300.00" fill="none" stroke="#f0c060" stroke-width="0.9"/>
<line x1="311.7" y1="290.2" x2="305.0" y2="299.0" stroke="#f0c870" stroke-width="0.8"/>
<line x1="319.5" y1="298.5" x2="316.5" y2="308.0" stroke="#f0c870" stroke-width="0.7"/>
<path d="M345.70 300.00 C347 284 357 284 359 299" fill="none" stroke="#d8a040" stroke-width="0.9"/>
<path d="M345.70 300.00 C345.5 294 348.5 293 350 300" fill="none" stroke="#8a5a8a" stroke-width="0.8"/>
<text x="316.90" y="155.80" font-size="7.20" fill="#3a3a3a" font-weight="normal" font-style="italic" text-anchor="start" textLength="31.30" lengthAdjust="spacingAndGlyphs" stroke="#3a3a3a" stroke-width="0.22">PACSIN2</text>
<text x="351.20" y="161.60" font-size="7.20" fill="#3a3a3a" font-weight="normal" font-style="italic" text-anchor="start" textLength="28.80" lengthAdjust="spacingAndGlyphs" stroke="#3a3a3a" stroke-width="0.22">CSF2RA</text>
<text x="386.00" y="170.90" font-size="7.20" fill="#3a3a3a" font-weight="normal" font-style="italic" text-anchor="start" textLength="53.90" lengthAdjust="spacingAndGlyphs" stroke="#3a3a3a" stroke-width="0.22">MIGA1/FAM73A</text>
<text x="247.20" y="200.60" font-size="7.20" fill="#3a3a3a" font-weight="normal" font-style="italic" text-anchor="start" textLength="27.40" lengthAdjust="spacingAndGlyphs" stroke="#3a3a3a" stroke-width="0.22">SPPL2A</text>
<text x="281.50" y="303.50" font-size="7.20" fill="#3a3a3a" font-weight="normal" font-style="italic" text-anchor="start" textLength="22.30" lengthAdjust="spacingAndGlyphs" stroke="#3a3a3a" stroke-width="0.22">BICD2</text>
<text x="302.90" y="313.80" font-size="7.20" fill="#3a3a3a" font-weight="normal" font-style="italic" text-anchor="start" textLength="25.90" lengthAdjust="spacingAndGlyphs" stroke="#3a3a3a" stroke-width="0.22">DOCK8</text>
<text x="352.30" y="308.80" font-size="7.20" fill="#3a3a3a" font-weight="normal" font-style="italic" text-anchor="start" textLength="23.10" lengthAdjust="spacingAndGlyphs" stroke="#3a3a3a" stroke-width="0.22">LMTK2</text>
<text x="333.80" y="318.10" font-size="7.20" fill="#555" font-weight="normal" font-style="italic" text-anchor="start" textLength="23.90" lengthAdjust="spacingAndGlyphs" stroke="#555" stroke-width="0.22">FNBP1</text>
<text x="363.80" y="323.50" font-size="7.20" fill="#3a3a3a" font-weight="normal" font-style="italic" text-anchor="start" textLength="39.30" lengthAdjust="spacingAndGlyphs" stroke="#3a3a3a" stroke-width="0.22">TMEM106B</text>
<text x="333.80" y="329.60" font-size="7.40" fill="#111" font-weight="bold" font-style="italic" text-anchor="start" textLength="20.80" lengthAdjust="spacingAndGlyphs" stroke="#111" stroke-width="0.22">BRAF</text>
<defs>
<filter id="bl03" x="-10%" y="-10%" width="120%" height="120%"><feGaussianBlur stdDeviation="0.3"/></filter>
<filter id="bl05" x="-10%" y="-10%" width="120%" height="120%"><feGaussianBlur stdDeviation="0.5"/></filter>
<filter id="bl1" x="-20%" y="-20%" width="140%" height="140%"><feGaussianBlur stdDeviation="1"/></filter>
<filter id="bl2" x="-30%" y="-30%" width="160%" height="160%"><feGaussianBlur stdDeviation="2"/></filter>
<filter id="bl4" x="-50%" y="-50%" width="200%" height="200%"><feGaussianBlur stdDeviation="4"/></filter>
<filter id="bl6" x="-50%" y="-50%" width="200%" height="200%"><feGaussianBlur stdDeviation="6"/></filter>
<clipPath id="cE1"><rect x="1.6" y="370" width="121.4" height="81.5"/></clipPath>
<clipPath id="cE2"><rect x="1.6" y="453.5" width="121.4" height="57"/></clipPath>
<clipPath id="cF1"><rect x="125.4" y="370" width="121.7" height="81.3"/></clipPath>
<clipPath id="cF2"><rect x="125.4" y="453.9" width="121.7" height="56.6"/></clipPath>
<clipPath id="cG"><rect x="250.2" y="370" width="132.9" height="140.5"/></clipPath>
<clipPath id="cH"><rect x="385.2" y="370" width="132.1" height="140.5"/></clipPath>
<clipPath id="cEi"><rect x="80.3" y="403.8" width="42.7" height="47.7"/></clipPath>
</defs>
<text x="0.80" y="360.90" font-size="12.60" fill="#111" font-weight="bold" font-style="normal" text-anchor="start" stroke="#111" stroke-width="0.45">E</text>
<g clip-path="url(#cE1)">
<rect x="1.6" y="370" width="121.4" height="81.5" fill="#cdb1a0"/>
<g filter="url(#bl6)">
<ellipse cx="20" cy="440" rx="14" ry="20" fill="#b89a88"/>
<ellipse cx="58" cy="432" rx="24" ry="16" fill="#d6bcac"/>
<ellipse cx="62" cy="400" rx="22" ry="8" fill="#d8bfae"/>
<ellipse cx="30" cy="412" rx="12" ry="7" fill="#c9a08e"/>
<ellipse cx="66" cy="384" rx="12" ry="12" fill="#c6a894"/>
</g>
<path filter="url(#bl05)" d="M0.0 368.0 C8.2 353.7 40.8 366.7 48.9 368.0 C57.0 369.3 48.9 373.7 48.6 376.0 C48.3 378.3 47.8 380.2 47.2 382.0 C46.6 383.8 46.0 385.4 45.0 387.0 C44.0 388.6 43.0 390.1 41.5 391.5 C40.0 392.9 38.2 394.2 36.0 395.5 C33.8 396.8 30.7 397.9 28.0 399.0 C25.3 400.1 22.2 400.9 20.0 401.8 C17.8 402.7 16.0 403.4 14.5 404.5 C13.0 405.6 12.0 406.9 11.2 408.5 C10.4 410.1 10.0 411.8 9.6 414.0 C9.2 416.2 9.0 418.5 8.8 422.0 C8.6 425.5 8.4 430.0 8.2 435.0 C8.0 440.0 9.1 448.8 7.7 452.0 C6.3 455.2 1.3 468.0 0.0 454.0 C-1.3 440.0 -8.2 382.3 0.0 368.0 Z" fill="#2a2a2b"/>
<path filter="url(#bl05)" d="M81.8 368.0 C74.4 369.0 80.8 372.0 80.6 374.0 C80.4 376.0 80.4 378.2 80.6 380.0 C80.8 381.8 81.2 383.5 82.0 385.0 C82.8 386.5 84.0 387.7 85.5 389.0 C87.0 390.3 88.8 391.6 91.0 393.0 C93.2 394.4 96.2 396.2 98.7 397.4 C101.2 398.6 103.6 399.7 106.0 400.4 C108.4 401.1 109.8 401.5 113.0 401.8 C116.2 402.1 123.0 407.8 125.0 402.2 C127.0 396.6 132.2 373.7 125.0 368.0 C117.8 362.3 89.2 367.0 81.8 368.0 Z" fill="#2a2a2b"/>
<ellipse filter="url(#bl1)" cx="66" cy="371" rx="8" ry="2.5" fill="#c09080"/>
<path filter="url(#bl1)" d="M36 404 Q52 401 62 403 Q72 405 82 401" stroke="#bf9f8c" stroke-width="1.6" fill="none"/>
<path filter="url(#bl1)" d="M40 408 Q55 406 64 408" stroke="#dcc4b4" stroke-width="1.4" fill="none"/>
<ellipse filter="url(#bl1)" cx="33" cy="402" rx="4" ry="3" fill="#b87060"/>
<ellipse filter="url(#bl03)" cx="32.8" cy="401.8" rx="2.1" ry="1.6" fill="#5a1812"/>
<path filter="url(#bl1)" d="M24 420 Q26 440 25 452" stroke="#b08f7e" stroke-width="2" fill="none"/>
<ellipse filter="url(#bl05)" cx="38.5" cy="442" rx="2.5" ry="1.6" fill="#b8988a"/>
</g>
<rect x="79.8" y="403.3" width="43.7" height="48.5" fill="#f2ece8"/>
<g clip-path="url(#cEi)">
<rect x="80.3" y="403.8" width="42.7" height="47.7" fill="#c09a88"/>
<g filter="url(#bl4)"><ellipse cx="100" cy="412" rx="20" ry="10" fill="#c09a88"/><ellipse cx="100" cy="445" rx="22" ry="7" fill="#c2a08e"/></g>
<g filter="url(#bl05)">
<path d="M93.0 413.0 C93.8 411.8 95.5 410.0 97.0 409.5 C98.5 409.0 100.3 409.7 102.0 410.0 C103.7 410.3 105.8 410.7 107.0 411.5 C108.2 412.3 108.8 413.7 109.0 415.0 C109.2 416.3 108.8 418.3 108.0 419.5 C107.2 420.7 105.5 421.5 104.0 422.0 C102.5 422.5 100.5 422.7 99.0 422.5 C97.5 422.3 96.1 421.9 95.0 421.0 C93.9 420.1 92.8 418.3 92.5 417.0 C92.2 415.7 92.2 414.2 93.0 413.0 Z" fill="#7a1a18"/>
<ellipse cx="101.5" cy="416.5" rx="5" ry="3.2" fill="#3a0c0a"/>
<ellipse cx="96" cy="414" rx="2" ry="1.5" fill="#2a0806"/>
<ellipse cx="106" cy="419" rx="2" ry="1.6" fill="#2a0806"/>
<ellipse cx="99" cy="417.5" rx="1.2" ry="0.9" fill="#e0d0d0"/>
<ellipse cx="104.5" cy="414.5" rx="1.5" ry="1.2" fill="#a02020"/>
</g>
<g filter="url(#bl03)">
<line x1="82.5" y1="441.5" x2="82.5" y2="449.5" stroke="#e2d2c8" stroke-width="0.9"/>
<line x1="86.3" y1="444.5" x2="86.3" y2="449.5" stroke="#e2d2c8" stroke-width="0.9"/>
<line x1="90.1" y1="441.5" x2="90.1" y2="449.5" stroke="#e2d2c8" stroke-width="0.9"/>
<line x1="93.9" y1="444.5" x2="93.9" y2="449.5" stroke="#e2d2c8" stroke-width="0.9"/>
<line x1="97.7" y1="441.5" x2="97.7" y2="449.5" stroke="#e2d2c8" stroke-width="0.9"/>
<line x1="101.5" y1="444.5" x2="101.5" y2="449.5" stroke="#e2d2c8" stroke-width="0.9"/>
<line x1="105.3" y1="441.5" x2="105.3" y2="449.5" stroke="#e2d2c8" stroke-width="0.9"/>
<line x1="109.1" y1="444.5" x2="109.1" y2="449.5" stroke="#e2d2c8" stroke-width="0.9"/>
<line x1="112.9" y1="441.5" x2="112.9" y2="449.5" stroke="#e2d2c8" stroke-width="0.9"/>
<line x1="116.7" y1="444.5" x2="116.7" y2="449.5" stroke="#e2d2c8" stroke-width="0.9"/>
<line x1="120.5" y1="441.5" x2="120.5" y2="449.5" stroke="#e2d2c8" stroke-width="0.9"/>
<path d="M83 449 L86 436 M111 449 L118 436" stroke="#ece2da" stroke-width="1.2"/>
</g>
</g>
<rect x="90.9" y="370" width="32.1" height="11.7" fill="#8db2dc"/>
<text x="93.6" y="379.6" font-size="7.4" fill="#f4f8ff" font-style="italic" textLength="16.6" lengthAdjust="spacingAndGlyphs">BRAF</text>
<text x="110.6" y="375.2" font-size="3.2" fill="#f4f8ff" font-style="italic">V600E</text>
<g clip-path="url(#cE2)">
<rect x="1.6" y="453.5" width="121.4" height="57" fill="#828282"/>
<g filter="url(#bl6)"><ellipse cx="103" cy="476" rx="30" ry="36" fill="#a6a6a6"/><ellipse cx="30" cy="500" rx="30" ry="12" fill="#8a8a8a"/><ellipse cx="60" cy="472" rx="22" ry="7" fill="#8e8e8e"/></g>
<g filter="url(#bl05)" fill="none">
<path d="M62 505 Q78 482 90 466 Q100 456 115 454" stroke="#b4b4b4" stroke-width="2"/>
<path d="M66 506 Q80 486 92 470" stroke="#a6a6a6" stroke-width="1"/>
<path d="M82 475 Q100 468 123 470" stroke="#a8a8a8" stroke-width="1.4"/>
<path d="M70 470 Q92 458 123 456" stroke="#aeaeae" stroke-width="1.2"/>
<path d="M60 500 Q70 486 80 474 Q90 462 104 455" stroke="#b0b0b0" stroke-width="1.1"/>
<path d="M85 500 Q102 486 123 488" stroke="#a0a0a0" stroke-width="1.1"/>
<path d="M20 508 Q35 492 55 488" stroke="#9a9a9a" stroke-width="1.2"/>
<path d="M78 490 Q100 478 123 480" stroke="#a4a4a4" stroke-width="1.3"/>
<path d="M75 503 Q100 492 123 494" stroke="#a2a2a2" stroke-width="1.2"/>
<path d="M14 498 Q28 486 45 489" stroke="#a8a8a8" stroke-width="1.5"/>
<ellipse cx="41" cy="494" rx="3.5" ry="2.5" stroke="#acacac" stroke-width="1.1"/>
</g>
<path filter="url(#bl05)" d="M0.0 452.0 C12.2 446.5 61.5 451.4 73.5 452.0 C85.5 452.6 72.9 454.3 72.0 455.5 C71.1 456.7 69.7 457.8 68.0 459.0 C66.3 460.2 64.2 461.4 62.0 462.5 C59.8 463.6 57.7 464.6 55.0 465.5 C52.3 466.4 49.2 467.2 46.0 468.0 C42.8 468.8 39.5 469.6 36.0 470.5 C32.5 471.4 28.7 472.3 25.0 473.5 C21.3 474.7 17.2 476.2 14.0 477.5 C10.8 478.8 8.3 480.2 6.0 481.5 C3.7 482.8 1.0 489.9 0.0 485.0 C-1.0 480.1 -12.2 457.5 0.0 452.0 Z" fill="#2c2c2e"/>
<path filter="url(#bl2)" d="M1 489 Q10 482 26 477 Q45 472 60 468 Q70 463 76 457" stroke="#9c9c9c" stroke-width="3.5" fill="none"/>
<path filter="url(#bl05)" d="M1 485.2 Q10 478.5 25 473.8 Q44 469 58 465.2 Q68 460 73 454" stroke="#1e1e1e" stroke-width="1.1" fill="none"/>
</g>
<text x="124.60" y="360.90" font-size="12.60" fill="#111" font-weight="bold" font-style="normal" text-anchor="start" stroke="#111" stroke-width="0.45">F</text>
<g clip-path="url(#cF1)">
<rect x="125.4" y="370" width="121.7" height="81.3" fill="#e4b496"/>
<g filter="url(#bl6)">
<ellipse cx="150" cy="378" rx="30" ry="10" fill="#e2a47a"/>
<ellipse cx="215" cy="380" rx="30" ry="12" fill="#d89a74"/>
<ellipse cx="150" cy="405" rx="18" ry="18" fill="#eec8ae"/>
<ellipse cx="228" cy="405" rx="18" ry="16" fill="#dca080"/>
<ellipse cx="162" cy="442" rx="28" ry="12" fill="#f0d2c0"/>
<ellipse cx="230" cy="442" rx="14" ry="10" fill="#f6e6de"/>
<ellipse cx="198" cy="446" rx="18" ry="6" fill="#eac6b4"/>
<ellipse cx="186" cy="410" rx="26" ry="20" fill="#d68a80"/>
<ellipse cx="198" cy="412" rx="11" ry="11" fill="#cc5656"/>
</g>
<g filter="url(#bl2)">
<rect x="124" y="398" width="4.5" height="54" fill="#eef0e6"/>
<path d="M131 375 L132 420 L137 451" stroke="#d89060" stroke-width="3" fill="none"/>
<path d="M140 380 L141 452" stroke="#f2d6c0" stroke-width="4"/>
</g>
<g filter="url(#bl2)">
<ellipse cx="182" cy="407" rx="23" ry="19" fill="#cc6a64"/>
<ellipse cx="196" cy="413" rx="12" ry="10" fill="#b83236"/>
<ellipse cx="170" cy="416" rx="9" ry="8" fill="#c86c64"/>
</g>
<g filter="url(#bl1)">
<ellipse cx="178" cy="403" rx="17" ry="15.5" fill="#d08680"/>
<ellipse cx="176.5" cy="396.5" rx="14" ry="9" fill="#e8c2bc"/>
<ellipse cx="183" cy="412" rx="10" ry="5.5" fill="#bc5450"/>
</g>
<g filter="url(#bl03)" stroke="#fbf4f2" stroke-width="0.9" fill="none" stroke-linecap="round">
<path d="M168.1 392.7 q1.1 -3.7 3.7 -1.1"/>
<path d="M175.2 388.6 q2.6 0.5 1.0 2.5"/>
<path d="M185.5 396.2 q1.4 -1.0 1.7 0.7"/>
<path d="M171.0 399.8 q-2.8 -0.8 -0.9 -2.8"/>
<path d="M180.7 399.3 q-0.7 3.7 -3.5 1.4"/>
<path d="M176.4 396.0 q0.5 -1.8 1.8 -0.5"/>
<path d="M173.6 397.2 q3.7 0.0 2.0 3.1"/>
<path d="M177.2 402.7 q3.7 -0.4 2.3 2.9"/>
<path d="M172.8 409.4 q-3.1 -0.8 -1.0 -3.0"/>
<path d="M179.7 409.2 q-1.4 -3.6 2.3 -3.2"/>
<path d="M180.6 396.1 q-1.2 1.5 -1.9 -0.2"/>
<path d="M177.2 400.3 q-1.0 2.9 -2.9 0.7"/>
<path d="M186.4 399.2 q-1.2 1.9 -2.3 0.0"/>
<path d="M179.4 393.0 q-1.1 2.5 -2.7 0.4"/>
<path d="M175.5 397.6 q1.5 -0.2 1.0 1.2"/>
<path d="M176.0 389.2 q3.4 0.4 1.5 3.1"/>
<path d="M169.8 404.6 q1.6 0.1 0.8 1.4"/>
<path d="M181.6 408.7 q1.1 3.2 -2.1 2.7"/>
<path d="M187.8 394.5 q-1.3 2.0 -2.4 -0.1"/>
<path d="M164.7 397.6 q2.6 2.1 -0.4 3.4"/>
<path d="M179.6 389.5 q3.8 0.9 1.3 3.6"/>
<path d="M181.4 401.8 q-2.9 -2.4 0.5 -3.8"/>
<path d="M169.1 407.8 q-2.2 -0.6 -0.6 -2.2"/>
<path d="M174.3 402.0 q1.7 0.9 0.1 1.9"/>
<path d="M170.9 388.8 q0.9 1.4 -0.7 1.5"/>
<path d="M184.8 398.4 q-1.7 1.2 -1.9 -0.8"/>
<path d="M166.1 393.6 q-2.5 0.7 -1.9 -1.7"/>
<path d="M188.1 402.6 q2.7 0.6 1.0 2.6"/>
<path d="M177.7 396.7 q-0.4 -3.8 3.0 -2.5"/>
<path d="M168.1 392.2 q2.0 1.6 -0.3 2.6"/>
<path d="M183.2 406.9 q-0.7 2.5 -2.5 0.8"/>
<path d="M188.2 399.0 q2.6 -0.4 1.7 2.0"/>
<path d="M165.1 399.7 q-2.2 0.3 -1.4 -1.7"/>
<path d="M173.1 400.6 q-2.8 2.8 -3.9 -0.9"/>
</g>
<path filter="url(#bl1)" d="M168 424 Q188 414 210 423" stroke="#c05a58" stroke-width="3" fill="none"/>
<g filter="url(#bl05)">
<path d="M171.5 428.5 C171.8 427.2 174.8 424.7 177.0 423.5 C179.2 422.3 182.0 421.7 185.0 421.3 C188.0 420.9 192.0 421.0 195.0 421.3 C198.0 421.6 201.0 422.3 203.0 423.0 C205.0 423.7 207.2 424.4 207.0 425.5 C206.8 426.6 204.3 428.3 202.0 429.5 C199.7 430.7 196.3 431.9 193.0 432.5 C189.7 433.1 185.0 433.2 182.0 433.0 C179.0 432.8 176.8 432.2 175.0 431.5 C173.2 430.8 171.2 429.8 171.5 428.5 Z" fill="#8e908a"/>
<ellipse cx="187.5" cy="427.3" rx="10" ry="5.6" fill="#434c47"/>
<ellipse cx="198" cy="426.5" rx="3.5" ry="3.5" fill="#9ca6a2"/>
<ellipse cx="186.5" cy="426.5" rx="3.4" ry="3.3" fill="#22262a"/>
<path d="M171 428 Q186 418.5 207.5 425" stroke="#3a2824" stroke-width="1.1" fill="none"/>
</g>
<path filter="url(#bl1)" d="M168 434 Q188 439 210 429" stroke="#d29a88" stroke-width="1.4" fill="none"/>
</g>
<rect x="215" y="370" width="32.1" height="11.6" fill="#8db2dc"/>
<text x="217.6" y="379.6" font-size="7.4" fill="#f4f8ff" font-style="italic" textLength="16.6" lengthAdjust="spacingAndGlyphs">BRAF</text>
<text x="234.6" y="375.2" font-size="3.2" fill="#f4f8ff" font-style="italic">V600E</text>
<g clip-path="url(#cF2)">
<rect x="125.4" y="453.9" width="121.7" height="56.6" fill="#0e0f10"/>
<path filter="url(#bl05)" d="M129.3 512 C131.5 498 137 487 145 477 C150 471 157 468.3 168 468 L186 469.2 C205 470 225 473.5 235.5 485.5 C241 492.5 244 502 245.6 512 Z" fill="#dcdcdc"/>
<path filter="url(#bl05)" d="M131.6 512 C133.8 499 139 488.5 147 479 C152 473 158 470.5 168 470.3 L186 471.2 C204 472 223 475.5 233.5 487 C238.7 493.5 241.6 502.5 243.2 512 Z" fill="#646464"/>
<path filter="url(#bl05)" d="M196 471.6 C212 472.6 224 476 232 483" stroke="#8a8a8a" stroke-width="1.4" fill="none"/>
<path filter="url(#bl05)" d="M148.5 472.5 C150.1 470.3 150.6 469.6 152.5 468.6 C154.4 467.7 156.8 467.0 160.0 466.8 C163.2 466.6 168.2 467.0 172.0 467.4 C175.8 467.8 180.8 467.8 183.0 469.2 C185.2 470.6 185.3 473.2 185.0 476.0 C184.7 478.8 183.0 482.9 181.0 486.0 C179.0 489.1 176.3 492.8 173.0 494.5 C169.7 496.2 165.0 496.5 161.0 496.5 C157.0 496.5 152.2 495.3 149.0 494.5 C145.8 493.7 142.5 493.6 141.5 491.5 C140.5 489.4 141.8 485.2 143.0 482.0 C144.2 478.8 146.9 474.7 148.5 472.5 Z" fill="#727272"/>
<g filter="url(#bl05)" stroke="#2a2a2a" fill="none">
<path d="M138 493 Q150 493 160 497 Q170 497 176 492 Q182 484 187 476" stroke-width="1.2"/>
<path d="M186.8 476 L186.3 512" stroke-width="0.9"/>
<path d="M190 476 Q203 477 214 480" stroke-width="0.8"/>
<path d="M221 494 Q231 494 240 501" stroke-width="1"/>
</g>
<path filter="url(#bl05)" d="M134 500 L140 486 L147 476" stroke="#e6e6e6" stroke-width="1.6" fill="none"/>
<g filter="url(#bl05)"><ellipse cx="212" cy="487.3" rx="9.5" ry="7" fill="#8a8a8a"/><ellipse cx="212.6" cy="486.8" rx="7.2" ry="5.3" fill="#d6d6d6"/><ellipse cx="214" cy="487.5" rx="4" ry="3" fill="#eeeeee"/></g>
</g>
<text x="250.40" y="360.90" font-size="12.60" fill="#111" font-weight="bold" font-style="normal" text-anchor="start" stroke="#111" stroke-width="0.45">G</text>
<g clip-path="url(#cG)">
<rect x="250.2" y="370" width="132.9" height="140.5" fill="#d5d5d5"/>
<g filter="url(#bl4)"><rect x="296" y="380" width="38" height="100" fill="#dcdcdc"/><ellipse cx="317" cy="500" rx="60" ry="12" fill="#d8d8d8"/></g>
<rect filter="url(#bl1)" x="250" y="370" width="3" height="141" fill="#dadcde"/>
<path filter="url(#bl05)" d="M262 368 L288.4 368 L288.2 377 Q287.5 382.3 281 382.3 Q274.5 381.8 268.5 376 Z" fill="#262a2c"/>
<path filter="url(#bl05)" d="M310.8 368 L316.4 368 L315.8 378 L313.6 383.5 L311.3 378 Z" fill="#2a2c2e"/>
<path filter="url(#bl05)" d="M337 368 L344 368 L344 378 L340 377 Z" fill="#2a2c2e"/>
<g filter="url(#bl05)" fill="#f4f4f4">
<ellipse cx="288.3" cy="392.6" rx="6.5" ry="3" transform="rotate(20 288.3 392.6)"/>
<ellipse cx="285" cy="401.5" rx="4.5" ry="2" transform="rotate(-10 285 401.5)"/>
<ellipse cx="269.2" cy="407" rx="2.8" ry="2.6" transform="rotate(0 269.2 407)"/>
<ellipse cx="262" cy="422" rx="2.2" ry="3" transform="rotate(0 262 422)"/>
<ellipse cx="258" cy="438" rx="1.6" ry="2.6" transform="rotate(0 258 438)"/>
<ellipse cx="254" cy="452" rx="1.4" ry="2.4" transform="rotate(0 254 452)"/>
<ellipse cx="254" cy="466" rx="1.4" ry="2.4" transform="rotate(0 254 466)"/>
<ellipse cx="254" cy="480" rx="1.4" ry="2.4" transform="rotate(0 254 480)"/>
<ellipse cx="339" cy="390.5" rx="7" ry="3" transform="rotate(-30 339 390.5)"/>
<ellipse cx="344.4" cy="398.7" rx="5" ry="2" transform="rotate(-20 344.4 398.7)"/>
<ellipse cx="356" cy="400" rx="2.5" ry="1.8" transform="rotate(0 356 400)"/>
<ellipse cx="377" cy="420" rx="1.6" ry="2.6" transform="rotate(0 377 420)"/>
<ellipse cx="379" cy="435" rx="1.4" ry="2.4" transform="rotate(0 379 435)"/>
<ellipse cx="380" cy="450" rx="1.4" ry="2.4" transform="rotate(0 380 450)"/>
<ellipse cx="380.5" cy="466" rx="1.4" ry="2.4" transform="rotate(0 380.5 466)"/>
<ellipse cx="381" cy="482" rx="1.4" ry="2.4" transform="rotate(0 381 482)"/>
</g>
<path filter="url(#bl05)" d="M269.6 408.7 C270.6 407.1 272.1 406.9 274.5 406.3 C276.9 405.7 280.8 405.3 284.0 405.0 C287.2 404.7 291.7 403.8 294.0 404.3 C296.3 404.8 297.3 405.5 298.0 407.8 C298.7 410.1 298.4 414.8 298.2 418.0 C298.0 421.2 297.4 424.7 297.0 427.0 C296.6 429.3 296.2 429.8 295.6 432.0 C295.1 434.2 294.2 437.0 293.7 440.0 C293.2 443.0 292.7 446.7 292.6 450.0 C292.5 453.3 292.8 456.7 293.0 460.0 C293.2 463.3 293.8 467.2 293.6 470.0 C293.4 472.8 293.0 475.2 291.6 477.0 C290.2 478.8 287.8 479.2 285.5 480.5 C283.2 481.8 280.9 483.2 278.0 485.0 C275.1 486.8 270.8 489.2 268.0 491.0 C265.2 492.8 262.9 494.4 261.0 496.0 C259.1 497.6 257.6 502.3 256.8 500.5 C256.0 498.7 256.4 490.9 256.4 485.0 C256.4 479.1 256.5 471.2 256.8 465.0 C257.1 458.8 257.1 452.7 258.0 448.0 C258.9 443.3 260.8 440.5 262.0 437.0 C263.2 433.5 264.4 430.5 265.5 427.0 C266.6 423.5 267.8 419.1 268.5 416.0 C269.2 412.9 268.6 410.3 269.6 408.7 Z" fill="#45494d"/>
<path filter="url(#bl05)" d="M266.5 416.5 C267.8 415.0 269.2 415.2 272.0 414.8 C274.8 414.4 280.0 414.1 283.0 414.3 C286.0 414.5 288.4 414.7 290.0 416.0 C291.6 417.3 292.2 419.7 292.5 422.0 C292.8 424.3 292.2 427.7 291.5 430.0 C290.8 432.3 289.8 434.6 288.0 436.0 C286.2 437.4 283.7 438.4 281.0 438.6 C278.3 438.9 274.5 438.4 272.0 437.5 C269.5 436.6 267.3 435.2 266.0 433.0 C264.7 430.8 263.9 426.8 264.0 424.0 C264.1 421.2 265.2 418.0 266.5 416.5 Z" fill="#cbcbcb"/>
<g filter="url(#bl1)"><ellipse cx="280" cy="424" rx="6" ry="5" fill="#d8d8d8"/><ellipse cx="286" cy="433" rx="3" ry="2" fill="#b0b0b0"/><ellipse cx="272" cy="430" rx="3" ry="2.5" fill="#bdbdbd"/></g>
<g filter="url(#bl05)" fill="#d8d8d8">
<ellipse cx="275" cy="463" rx="4.5" ry="3"/>
<ellipse cx="268" cy="457" rx="1.5" ry="1.5"/>
<ellipse cx="284" cy="464.5" rx="1.6" ry="1.8"/>
<ellipse cx="260.5" cy="440" rx="1.7" ry="1.7"/>
<ellipse cx="282" cy="452" rx="1.2" ry="1.2"/>
<ellipse cx="273" cy="470" rx="1" ry="1"/>
<ellipse cx="289" cy="448" rx="1.2" ry="1.2"/>
<ellipse cx="265" cy="448" rx="1" ry="1"/>
</g>
<path filter="url(#bl05)" d="M330.0 405.6 C330.9 403.4 332.3 401.4 335.5 400.8 C338.7 400.2 344.9 401.4 349.0 402.1 C353.1 402.8 357.0 403.6 360.0 404.9 C363.0 406.2 364.9 407.5 367.0 409.7 C369.1 411.9 371.1 414.7 372.5 417.9 C373.9 421.1 374.6 424.3 375.2 428.8 C375.8 433.3 375.7 438.1 376.0 445.0 C376.3 451.9 376.7 460.2 377.0 470.0 C377.3 479.8 378.8 499.2 378.0 503.5 C377.2 507.8 374.2 498.2 372.0 496.0 C369.8 493.8 367.8 491.8 365.0 490.0 C362.2 488.2 359.5 486.3 355.0 485.0 C350.5 483.7 339.9 482.9 338.2 482.0 C336.5 481.1 343.1 481.4 344.6 479.7 C346.1 478.0 346.8 475.0 347.0 471.7 C347.2 468.4 346.4 462.9 346.0 460.0 C345.6 457.1 345.5 457.4 344.6 454.0 C343.7 450.6 341.9 443.6 340.6 439.6 C339.3 435.6 337.9 433.3 336.6 430.0 C335.3 426.7 334.1 422.7 333.0 420.0 C331.9 417.3 330.5 416.4 330.0 414.0 C329.5 411.6 329.1 407.8 330.0 405.6 Z" fill="#45494d"/>
<g filter="url(#bl05)" fill="#d8d8d8">
<ellipse cx="357.4" cy="413.1" rx="2.3" ry="2.3"/>
<ellipse cx="360.1" cy="422.7" rx="2.8" ry="2.8"/>
<ellipse cx="368.4" cy="420.6" rx="2.6" ry="2.8"/>
<ellipse cx="343.7" cy="422" rx="1.5" ry="1.5"/>
<ellipse cx="334" cy="420" rx="3.5" ry="3.5"/>
<ellipse cx="367.9" cy="444.1" rx="3.6" ry="2.6"/>
<ellipse cx="373" cy="467.7" rx="4" ry="4"/>
<ellipse cx="351" cy="442.8" rx="1.4" ry="1.4"/>
<ellipse cx="344.6" cy="441.2" rx="1.3" ry="1.3"/>
<ellipse cx="356" cy="455" rx="1.2" ry="1.2"/>
<ellipse cx="362" cy="432" rx="1.2" ry="1.2"/>
</g>
<g filter="url(#bl05)">
<ellipse cx="277.0" cy="454.8" rx="0.9" ry="0.9" fill="#9a9ea2"/>
<ellipse cx="371.0" cy="441.8" rx="0.7" ry="1.2" fill="#9a9ea2"/>
<ellipse cx="368.6" cy="442.3" rx="0.7" ry="0.6" fill="#6e7276"/>
<ellipse cx="353.9" cy="409.1" rx="0.6" ry="1.2" fill="#62666a"/>
<ellipse cx="284.7" cy="472.9" rx="0.9" ry="1.0" fill="#7c8084"/>
<ellipse cx="364.6" cy="474.3" rx="1.2" ry="0.9" fill="#585c60"/>
<ellipse cx="345.4" cy="434.3" rx="0.6" ry="0.7" fill="#62666a"/>
<ellipse cx="355.4" cy="453.1" rx="0.9" ry="1.1" fill="#7c8084"/>
<ellipse cx="358.6" cy="437.3" rx="1.3" ry="1.0" fill="#6e7276"/>
<ellipse cx="369.3" cy="479.4" rx="1.1" ry="0.7" fill="#6e7276"/>
<ellipse cx="359.9" cy="415.5" rx="1.1" ry="1.2" fill="#6e7276"/>
<ellipse cx="263.1" cy="459.3" rx="0.6" ry="1.1" fill="#585c60"/>
<ellipse cx="264.0" cy="451.8" rx="1.3" ry="0.5" fill="#585c60"/>
<ellipse cx="342.5" cy="459.7" rx="1.0" ry="1.1" fill="#7c8084"/>
<ellipse cx="266.8" cy="441.4" rx="0.6" ry="0.9" fill="#62666a"/>
<ellipse cx="265.5" cy="456.3" rx="0.7" ry="1.0" fill="#9a9ea2"/>
<ellipse cx="352.2" cy="433.9" rx="1.3" ry="0.8" fill="#6e7276"/>
<ellipse cx="358.2" cy="454.4" rx="1.1" ry="0.6" fill="#9a9ea2"/>
<ellipse cx="367.8" cy="427.5" rx="1.3" ry="0.8" fill="#6e7276"/>
<ellipse cx="269.0" cy="453.6" rx="1.4" ry="0.7" fill="#585c60"/>
<ellipse cx="278.4" cy="445.3" rx="0.9" ry="1.0" fill="#7c8084"/>
<ellipse cx="282.3" cy="469.5" rx="1.0" ry="1.2" fill="#62666a"/>
<ellipse cx="271.2" cy="465.1" rx="1.0" ry="0.7" fill="#7c8084"/>
<ellipse cx="269.3" cy="454.8" rx="0.7" ry="1.1" fill="#9a9ea2"/>
<ellipse cx="285.8" cy="478.9" rx="0.8" ry="0.7" fill="#6e7276"/>
<ellipse cx="348.9" cy="421.5" rx="1.1" ry="0.6" fill="#585c60"/>
<ellipse cx="372.3" cy="456.6" rx="0.9" ry="1.1" fill="#6e7276"/>
<ellipse cx="270.1" cy="466.0" rx="0.9" ry="0.7" fill="#9a9ea2"/>
<ellipse cx="276.5" cy="447.6" rx="0.7" ry="0.7" fill="#9a9ea2"/>
<ellipse cx="362.2" cy="466.1" rx="1.0" ry="0.8" fill="#7c8084"/>
<ellipse cx="369.0" cy="441.5" rx="0.8" ry="0.9" fill="#585c60"/>
<ellipse cx="272.6" cy="448.0" rx="1.3" ry="1.1" fill="#585c60"/>
<ellipse cx="355.3" cy="476.4" rx="0.5" ry="0.8" fill="#6e7276"/>
<ellipse cx="365.7" cy="477.4" rx="0.8" ry="0.7" fill="#9a9ea2"/>
<ellipse cx="278.4" cy="451.5" rx="0.5" ry="1.1" fill="#6e7276"/>
<ellipse cx="371.5" cy="472.6" rx="1.0" ry="0.5" fill="#585c60"/>
<ellipse cx="346.7" cy="429.6" rx="1.0" ry="0.8" fill="#62666a"/>
<ellipse cx="361.2" cy="432.6" rx="1.4" ry="0.9" fill="#7c8084"/>
<ellipse cx="343.0" cy="423.9" rx="1.0" ry="1.1" fill="#62666a"/>
<ellipse cx="285.1" cy="476.9" rx="1.2" ry="0.5" fill="#6e7276"/>
<ellipse cx="369.5" cy="411.6" rx="0.7" ry="0.9" fill="#7c8084"/>
<ellipse cx="342.7" cy="431.3" rx="1.3" ry="1.0" fill="#62666a"/>
<ellipse cx="260.6" cy="459.3" rx="1.3" ry="0.6" fill="#62666a"/>
<ellipse cx="351.4" cy="430.6" rx="0.8" ry="0.8" fill="#7c8084"/>
<ellipse cx="267.7" cy="479.5" rx="0.6" ry="0.9" fill="#585c60"/>
<ellipse cx="353.5" cy="413.8" rx="0.5" ry="0.8" fill="#6e7276"/>
<ellipse cx="358.9" cy="453.8" rx="1.1" ry="0.8" fill="#62666a"/>
<ellipse cx="275.4" cy="468.1" rx="1.4" ry="0.8" fill="#585c60"/>
<ellipse cx="266.2" cy="450.8" rx="0.6" ry="0.8" fill="#9a9ea2"/>
<ellipse cx="288.0" cy="477.5" rx="1.4" ry="0.9" fill="#7c8084"/>
<ellipse cx="345.0" cy="457.7" rx="1.2" ry="1.0" fill="#9a9ea2"/>
<ellipse cx="359.6" cy="415.4" rx="1.1" ry="0.8" fill="#9a9ea2"/>
<ellipse cx="271.8" cy="461.1" rx="0.6" ry="1.1" fill="#9a9ea2"/>
<ellipse cx="259.8" cy="473.7" rx="0.5" ry="0.6" fill="#62666a"/>
<ellipse cx="364.0" cy="428.5" rx="1.2" ry="0.5" fill="#7c8084"/>
<ellipse cx="357.9" cy="459.5" rx="1.0" ry="0.6" fill="#62666a"/>
<ellipse cx="359.2" cy="470.6" rx="1.2" ry="0.7" fill="#6e7276"/>
<ellipse cx="267.2" cy="464.6" rx="0.7" ry="0.9" fill="#585c60"/>
<ellipse cx="359.4" cy="477.6" rx="1.0" ry="1.2" fill="#585c60"/>
<ellipse cx="283.7" cy="446.4" rx="1.2" ry="1.0" fill="#9a9ea2"/>
<ellipse cx="357.0" cy="454.3" rx="0.6" ry="0.8" fill="#6e7276"/>
<ellipse cx="364.1" cy="476.4" rx="1.1" ry="0.6" fill="#9a9ea2"/>
<ellipse cx="265.6" cy="463.4" rx="1.3" ry="1.1" fill="#7c8084"/>
<ellipse cx="366.7" cy="456.3" rx="1.0" ry="0.9" fill="#585c60"/>
<ellipse cx="370.4" cy="430.1" rx="0.9" ry="0.8" fill="#7c8084"/>
<ellipse cx="270.9" cy="452.9" rx="0.9" ry="1.0" fill="#6e7276"/>
<ellipse cx="347.8" cy="449.8" rx="0.5" ry="1.2" fill="#9a9ea2"/>
<ellipse cx="290.3" cy="471.3" rx="0.9" ry="0.7" fill="#62666a"/>
<ellipse cx="282.7" cy="467.0" rx="1.3" ry="0.7" fill="#6e7276"/>
<ellipse cx="267.5" cy="447.5" rx="1.3" ry="0.7" fill="#62666a"/>
<ellipse cx="351.3" cy="438.5" rx="0.6" ry="0.7" fill="#62666a"/>
<ellipse cx="342.2" cy="440.6" rx="0.5" ry="0.7" fill="#7c8084"/>
<ellipse cx="275.0" cy="448.4" rx="1.2" ry="0.8" fill="#9a9ea2"/>
<ellipse cx="269.5" cy="475.3" rx="1.1" ry="0.6" fill="#62666a"/>
<ellipse cx="371.0" cy="415.0" rx="1.1" ry="0.8" fill="#7c8084"/>
<ellipse cx="362.9" cy="456.2" rx="0.6" ry="1.2" fill="#7c8084"/>
<ellipse cx="277.7" cy="461.0" rx="1.0" ry="0.5" fill="#585c60"/>
<ellipse cx="283.0" cy="469.7" rx="0.7" ry="1.1" fill="#6e7276"/>
<ellipse cx="345.1" cy="475.1" rx="1.3" ry="1.0" fill="#6e7276"/>
<ellipse cx="354.9" cy="429.6" rx="0.9" ry="0.7" fill="#6e7276"/>
<ellipse cx="261.3" cy="468.6" rx="1.0" ry="1.0" fill="#9a9ea2"/>
<ellipse cx="267.8" cy="455.3" rx="0.5" ry="0.9" fill="#6e7276"/>
<ellipse cx="284.4" cy="454.2" rx="1.4" ry="0.8" fill="#7c8084"/>
<ellipse cx="343.3" cy="443.9" rx="0.6" ry="0.9" fill="#62666a"/>
<ellipse cx="359.6" cy="473.5" rx="0.7" ry="0.6" fill="#62666a"/>
<ellipse cx="283.5" cy="472.6" rx="1.0" ry="0.6" fill="#6e7276"/>
<ellipse cx="265.4" cy="461.1" rx="0.7" ry="1.1" fill="#9a9ea2"/>
<ellipse cx="268.7" cy="473.7" rx="1.3" ry="1.2" fill="#585c60"/>
<ellipse cx="277.2" cy="463.3" rx="1.4" ry="1.0" fill="#585c60"/>
<ellipse cx="287.4" cy="459.4" rx="0.7" ry="0.9" fill="#9a9ea2"/>
<ellipse cx="283.9" cy="449.4" rx="1.0" ry="0.8" fill="#6e7276"/>
<ellipse cx="276.5" cy="441.5" rx="1.3" ry="1.2" fill="#9a9ea2"/>
<ellipse cx="268.3" cy="466.3" rx="0.6" ry="1.1" fill="#6e7276"/>
<ellipse cx="342.7" cy="433.9" rx="1.0" ry="0.8" fill="#6e7276"/>
<ellipse cx="270.2" cy="453.1" rx="1.1" ry="0.6" fill="#7c8084"/>
<ellipse cx="360.8" cy="474.7" rx="1.2" ry="0.7" fill="#62666a"/>
<ellipse cx="371.7" cy="470.0" rx="1.1" ry="0.7" fill="#585c60"/>
<ellipse cx="285.0" cy="456.3" rx="1.1" ry="0.8" fill="#6e7276"/>
<ellipse cx="343.2" cy="469.3" rx="1.1" ry="0.7" fill="#6e7276"/>
<ellipse cx="366.0" cy="436.9" rx="0.9" ry="0.5" fill="#6e7276"/>
<ellipse cx="287.0" cy="457.9" rx="1.0" ry="0.7" fill="#7c8084"/>
<ellipse cx="265.9" cy="471.3" rx="1.3" ry="0.9" fill="#6e7276"/>
<ellipse cx="259.7" cy="463.4" rx="0.7" ry="0.5" fill="#9a9ea2"/>
<ellipse cx="264.6" cy="459.6" rx="1.3" ry="0.8" fill="#62666a"/>
<ellipse cx="260.1" cy="468.6" rx="0.9" ry="0.8" fill="#6e7276"/>
<ellipse cx="290.9" cy="448.8" rx="0.9" ry="0.6" fill="#62666a"/>
<ellipse cx="262.8" cy="476.5" rx="0.5" ry="1.0" fill="#9a9ea2"/>
<ellipse cx="285.0" cy="458.6" rx="0.9" ry="0.9" fill="#7c8084"/>
<ellipse cx="270.1" cy="479.7" rx="0.6" ry="1.0" fill="#7c8084"/>
<ellipse cx="360.5" cy="408.3" rx="1.1" ry="0.5" fill="#62666a"/>
<ellipse cx="356.9" cy="421.6" rx="1.3" ry="0.6" fill="#9a9ea2"/>
<ellipse cx="356.7" cy="465.9" rx="1.3" ry="0.5" fill="#7c8084"/>
<ellipse cx="279.0" cy="477.9" rx="1.4" ry="0.6" fill="#62666a"/>
<ellipse cx="275.7" cy="461.9" rx="1.1" ry="1.1" fill="#9a9ea2"/>
<ellipse cx="283.4" cy="469.4" rx="0.8" ry="0.6" fill="#9a9ea2"/>
<ellipse cx="355.5" cy="440.0" rx="0.8" ry="1.1" fill="#585c60"/>
<ellipse cx="365.8" cy="473.9" rx="1.4" ry="0.5" fill="#585c60"/>
<ellipse cx="283.8" cy="472.9" rx="1.2" ry="1.0" fill="#62666a"/>
<ellipse cx="266.8" cy="473.7" rx="1.3" ry="1.1" fill="#62666a"/>
<ellipse cx="288.6" cy="469.3" rx="1.4" ry="0.5" fill="#7c8084"/>
<ellipse cx="285.0" cy="476.6" rx="1.0" ry="0.6" fill="#7c8084"/>
<ellipse cx="280.4" cy="449.6" rx="1.4" ry="1.2" fill="#62666a"/>
<ellipse cx="291.5" cy="444.5" rx="1.4" ry="0.7" fill="#7c8084"/>
<ellipse cx="354.8" cy="464.2" rx="0.8" ry="1.1" fill="#9a9ea2"/>
<ellipse cx="356.4" cy="452.8" rx="1.2" ry="0.6" fill="#62666a"/>
<ellipse cx="290.9" cy="448.0" rx="0.6" ry="0.8" fill="#7c8084"/>
<ellipse cx="286.4" cy="464.6" rx="1.2" ry="1.1" fill="#585c60"/>
<ellipse cx="278.9" cy="457.8" rx="0.8" ry="1.2" fill="#62666a"/>
<ellipse cx="271.5" cy="444.7" rx="0.9" ry="1.0" fill="#62666a"/>
<ellipse cx="270.4" cy="459.4" rx="1.3" ry="1.0" fill="#62666a"/>
<ellipse cx="284.9" cy="442.7" rx="0.7" ry="0.7" fill="#9a9ea2"/>
<ellipse cx="352.1" cy="439.0" rx="0.7" ry="0.7" fill="#62666a"/>
<ellipse cx="347.8" cy="423.7" rx="0.9" ry="1.0" fill="#9a9ea2"/>
<ellipse cx="353.1" cy="421.8" rx="1.4" ry="0.8" fill="#9a9ea2"/>
<ellipse cx="354.4" cy="479.8" rx="0.8" ry="1.2" fill="#62666a"/>
<ellipse cx="262.2" cy="468.9" rx="1.0" ry="0.5" fill="#7c8084"/>
<ellipse cx="347.4" cy="422.9" rx="0.9" ry="0.7" fill="#585c60"/>
<ellipse cx="365.6" cy="428.7" rx="0.9" ry="1.1" fill="#62666a"/>
<ellipse cx="265.8" cy="459.5" rx="1.4" ry="1.2" fill="#7c8084"/>
<ellipse cx="353.3" cy="419.6" rx="1.3" ry="0.8" fill="#7c8084"/>
<ellipse cx="348.3" cy="476.9" rx="0.8" ry="0.8" fill="#7c8084"/>
<ellipse cx="367.6" cy="429.4" rx="1.3" ry="0.9" fill="#6e7276"/>
<ellipse cx="279.8" cy="446.0" rx="0.6" ry="0.5" fill="#62666a"/>
<ellipse cx="284.4" cy="458.6" rx="1.4" ry="0.5" fill="#7c8084"/>
<ellipse cx="259.4" cy="457.3" rx="1.3" ry="0.9" fill="#7c8084"/>
<ellipse cx="355.9" cy="426.8" rx="0.9" ry="0.7" fill="#585c60"/>
<ellipse cx="273.2" cy="465.1" rx="1.3" ry="1.1" fill="#6e7276"/>
<ellipse cx="263.5" cy="470.3" rx="1.0" ry="1.1" fill="#585c60"/>
<ellipse cx="350.2" cy="420.1" rx="0.9" ry="0.5" fill="#62666a"/>
<ellipse cx="356.2" cy="445.5" rx="1.0" ry="0.8" fill="#9a9ea2"/>
<ellipse cx="350.7" cy="413.3" rx="1.4" ry="0.9" fill="#6e7276"/>
<ellipse cx="270.6" cy="458.2" rx="0.9" ry="1.2" fill="#7c8084"/>
<ellipse cx="269.4" cy="460.9" rx="0.9" ry="0.7" fill="#585c60"/>
<ellipse cx="360.3" cy="427.7" rx="1.0" ry="0.9" fill="#7c8084"/>
<ellipse cx="350.2" cy="459.1" rx="0.6" ry="1.0" fill="#7c8084"/>
<ellipse cx="276.0" cy="475.8" rx="0.7" ry="1.1" fill="#585c60"/>
<ellipse cx="271.6" cy="473.1" rx="0.5" ry="0.6" fill="#7c8084"/>
<ellipse cx="269.5" cy="464.4" rx="0.8" ry="0.6" fill="#9a9ea2"/>
<ellipse cx="291.3" cy="443.2" rx="1.4" ry="1.0" fill="#6e7276"/>
<ellipse cx="344.8" cy="453.5" rx="1.1" ry="1.1" fill="#62666a"/>
<ellipse cx="268.3" cy="478.4" rx="0.9" ry="1.2" fill="#62666a"/>
<ellipse cx="350.6" cy="448.3" rx="0.7" ry="1.2" fill="#6e7276"/>
<ellipse cx="288.9" cy="447.1" rx="1.1" ry="1.0" fill="#585c60"/>
<ellipse cx="260.8" cy="470.4" rx="0.8" ry="1.0" fill="#6e7276"/>
<ellipse cx="263.8" cy="461.0" rx="1.0" ry="0.8" fill="#6e7276"/>
<ellipse cx="271.9" cy="479.5" rx="0.6" ry="0.6" fill="#7c8084"/>
<ellipse cx="271.7" cy="477.5" rx="0.6" ry="0.6" fill="#9a9ea2"/>
<ellipse cx="373.9" cy="478.6" rx="0.6" ry="0.9" fill="#6e7276"/>
<ellipse cx="344.4" cy="469.0" rx="0.5" ry="0.7" fill="#585c60"/>
<ellipse cx="366.8" cy="449.0" rx="1.0" ry="0.7" fill="#585c60"/>
<ellipse cx="274.1" cy="455.4" rx="0.8" ry="1.0" fill="#9a9ea2"/>
<ellipse cx="350.9" cy="469.8" rx="0.8" ry="1.1" fill="#6e7276"/>
<ellipse cx="278.9" cy="442.3" rx="1.3" ry="0.6" fill="#9a9ea2"/>
<ellipse cx="287.7" cy="471.8" rx="1.1" ry="0.9" fill="#9a9ea2"/>
<ellipse cx="344.1" cy="446.9" rx="0.8" ry="0.9" fill="#585c60"/>
<ellipse cx="274.1" cy="462.5" rx="1.0" ry="1.0" fill="#7c8084"/>
<ellipse cx="364.9" cy="432.8" rx="0.8" ry="1.2" fill="#7c8084"/>
<ellipse cx="263.1" cy="460.0" rx="1.2" ry="0.7" fill="#7c8084"/>
<ellipse cx="267.8" cy="445.2" rx="1.0" ry="1.1" fill="#7c8084"/>
<ellipse cx="358.4" cy="439.8" rx="0.5" ry="0.8" fill="#9a9ea2"/>
<ellipse cx="361.1" cy="429.0" rx="1.3" ry="0.8" fill="#6e7276"/>
<ellipse cx="353.1" cy="423.5" rx="0.9" ry="0.6" fill="#9a9ea2"/>
<ellipse cx="353.9" cy="448.3" rx="0.8" ry="0.9" fill="#62666a"/>
<ellipse cx="271.3" cy="466.1" rx="1.0" ry="0.6" fill="#62666a"/>
<ellipse cx="271.2" cy="464.6" rx="1.3" ry="0.6" fill="#6e7276"/>
<ellipse cx="265.5" cy="441.1" rx="1.0" ry="1.0" fill="#7c8084"/>
<ellipse cx="368.6" cy="473.7" rx="0.8" ry="0.9" fill="#585c60"/>
<ellipse cx="371.6" cy="424.2" rx="1.3" ry="0.7" fill="#6e7276"/>
<ellipse cx="286.2" cy="464.0" rx="0.9" ry="1.1" fill="#62666a"/>
<ellipse cx="275.2" cy="479.4" rx="0.7" ry="0.8" fill="#585c60"/>
<ellipse cx="355.3" cy="453.3" rx="0.9" ry="0.6" fill="#7c8084"/>
<ellipse cx="363.8" cy="414.0" rx="1.3" ry="1.0" fill="#585c60"/>
<ellipse cx="287.0" cy="453.0" rx="1.1" ry="0.6" fill="#585c60"/>
<ellipse cx="362.3" cy="471.5" rx="1.3" ry="0.6" fill="#6e7276"/>
<ellipse cx="261.9" cy="465.7" rx="1.3" ry="0.9" fill="#62666a"/>
<ellipse cx="286.4" cy="447.2" rx="1.2" ry="1.1" fill="#585c60"/>
<ellipse cx="270.3" cy="458.2" rx="0.7" ry="0.9" fill="#9a9ea2"/>
<ellipse cx="278.4" cy="463.3" rx="1.1" ry="0.7" fill="#7c8084"/>
<ellipse cx="371.0" cy="469.7" rx="0.7" ry="0.5" fill="#9a9ea2"/>
<ellipse cx="269.3" cy="447.8" rx="0.7" ry="0.6" fill="#6e7276"/>
<ellipse cx="371.6" cy="444.1" rx="0.8" ry="1.0" fill="#6e7276"/>
<ellipse cx="267.1" cy="475.2" rx="0.7" ry="0.8" fill="#62666a"/>
<ellipse cx="268.4" cy="453.8" rx="1.1" ry="0.7" fill="#62666a"/>
<ellipse cx="266.3" cy="457.7" rx="0.7" ry="0.8" fill="#9a9ea2"/>
<ellipse cx="285.8" cy="454.6" rx="0.7" ry="1.0" fill="#6e7276"/>
<ellipse cx="276.8" cy="463.9" rx="0.9" ry="0.5" fill="#7c8084"/>
<ellipse cx="369.4" cy="443.3" rx="0.7" ry="0.9" fill="#9a9ea2"/>
<ellipse cx="275.3" cy="455.6" rx="1.4" ry="0.7" fill="#9a9ea2"/>
<ellipse cx="356.9" cy="420.9" rx="0.8" ry="1.0" fill="#585c60"/>
<ellipse cx="344.6" cy="446.0" rx="0.9" ry="0.9" fill="#7c8084"/>
<ellipse cx="355.7" cy="443.5" rx="0.8" ry="0.9" fill="#9a9ea2"/>
<ellipse cx="364.2" cy="478.2" rx="0.8" ry="1.1" fill="#9a9ea2"/>
<ellipse cx="358.9" cy="479.2" rx="1.3" ry="0.8" fill="#7c8084"/>
<ellipse cx="366.2" cy="438.4" rx="1.0" ry="0.7" fill="#7c8084"/>
<ellipse cx="359.6" cy="435.8" rx="0.8" ry="0.6" fill="#62666a"/>
<ellipse cx="357.0" cy="447.0" rx="0.7" ry="0.8" fill="#585c60"/>
<ellipse cx="344.5" cy="411.9" rx="1.1" ry="0.6" fill="#585c60"/>
<ellipse cx="344.9" cy="447.7" rx="1.3" ry="1.1" fill="#62666a"/>
<ellipse cx="354.1" cy="412.8" rx="1.1" ry="0.7" fill="#7c8084"/>
<ellipse cx="266.0" cy="444.4" rx="0.9" ry="0.7" fill="#7c8084"/>
</g>
<path filter="url(#bl05)" d="M337 497 l2 -1 l1 2 l-2 1 Z M341 496 l1.5 0 l0 1.5 Z" fill="#666"/>
</g>
<rect x="341.9" y="370.2" width="41.2" height="11.4" fill="#a8161a"/>
<text x="343.4" y="378.9" font-size="6.6" fill="#fbeeee" font-style="italic" textLength="37.6" lengthAdjust="spacingAndGlyphs">BICD2::BRAF</text>
<text x="387.60" y="360.90" font-size="12.60" fill="#111" font-weight="bold" font-style="normal" text-anchor="start" stroke="#111" stroke-width="0.45">H</text>
<g clip-path="url(#cH)">
<rect x="385.2" y="370" width="132.1" height="140.5" fill="#d9d9d9"/>
<rect filter="url(#bl1)" x="515.5" y="370" width="3" height="141" fill="#cfcfcf"/>
<defs><linearGradient id="hgL" x1="0" y1="380" x2="0" y2="476" gradientUnits="userSpaceOnUse"><stop offset="0" stop-color="#cbcbcb"/><stop offset="0.45" stop-color="#bababa"/><stop offset="1" stop-color="#8e8e8e"/></linearGradient></defs>
<path filter="url(#bl1)" d="M387.0 432.0 C388.2 423.6 390.5 422.7 393.0 418.0 C395.5 413.3 398.8 408.0 402.0 404.0 C405.2 400.0 408.4 396.9 412.0 394.0 C415.6 391.1 419.8 388.4 423.3 386.4 C426.8 384.4 429.3 382.7 432.9 382.0 C436.5 381.3 442.3 380.3 445.0 382.0 C447.7 383.7 448.2 387.3 449.0 392.0 C449.8 396.7 449.5 403.7 450.0 410.0 C450.5 416.3 451.4 423.3 452.0 430.0 C452.6 436.7 453.3 443.3 453.5 450.0 C453.7 456.7 453.9 465.9 453.0 470.0 C452.1 474.1 449.9 473.6 448.0 474.5 C446.1 475.4 444.4 475.8 441.9 475.5 C439.4 475.2 436.1 474.3 433.0 473.0 C429.9 471.7 426.2 468.8 423.5 467.5 C420.8 466.2 419.9 465.8 417.0 465.5 C414.1 465.2 409.8 465.7 405.8 466.0 C401.8 466.3 396.3 467.1 393.0 467.5 C389.7 467.9 387.0 474.4 386.0 468.5 C385.0 462.6 385.8 440.4 387.0 432.0 Z" fill="url(#hgL)" stroke="#8a8a8a" stroke-width="0.8"/>
<path filter="url(#bl1)" d="M466.0 394.0 C467.3 390.1 472.5 388.0 476.0 386.4 C479.5 384.8 483.6 383.6 487.0 384.5 C490.4 385.4 493.1 388.8 496.5 392.0 C499.9 395.2 504.9 399.7 507.5 404.0 C510.1 408.3 510.6 413.3 512.0 418.0 C513.4 422.7 514.9 425.0 515.6 432.0 C516.4 439.0 516.4 451.3 516.5 460.0 C516.6 468.7 516.9 479.8 516.0 484.0 C515.1 488.2 513.1 485.8 510.9 485.0 C508.7 484.2 506.1 481.0 502.9 479.0 C499.7 477.0 495.4 474.5 491.7 473.0 C487.9 471.5 483.6 469.9 480.4 469.8 C477.2 469.7 475.6 471.1 472.4 472.5 C469.2 473.9 462.8 479.1 461.0 478.0 C459.2 476.9 461.0 470.7 461.5 466.0 C462.0 461.3 462.9 455.7 464.0 450.0 C465.1 444.3 467.3 438.7 468.0 432.0 C468.7 425.3 468.3 416.3 468.0 410.0 C467.7 403.7 464.7 397.9 466.0 394.0 Z" fill="url(#hgL)" stroke="#8a8a8a" stroke-width="0.8"/>
<g filter="url(#bl4)"><ellipse cx="425" cy="402" rx="11" ry="13" fill="#d2d2d2"/><ellipse cx="484" cy="400" rx="9" ry="11" fill="#d2d2d2"/><ellipse cx="432" cy="447" rx="6" ry="6" fill="#c4c4c4"/><ellipse cx="473" cy="432" rx="6" ry="8" fill="#c4c4c4"/></g>
<path filter="url(#bl1)" d="M446.0 398.0 C448.2 394.8 449.3 392.2 452.0 391.0 C454.7 389.8 458.7 389.7 462.0 391.0 C465.3 392.3 469.3 395.7 472.0 399.0 C474.7 402.3 477.3 406.8 478.0 411.0 C478.7 415.2 477.2 419.8 476.0 424.0 C474.8 428.2 472.7 432.3 471.0 436.0 C469.3 439.7 467.4 442.5 466.0 446.0 C464.6 449.5 463.4 453.3 462.5 457.0 C461.6 460.7 461.5 465.0 460.5 468.0 C459.5 471.0 457.8 475.0 456.5 475.0 C455.2 475.0 453.6 471.3 453.0 468.0 C452.4 464.7 453.8 459.0 453.0 455.0 C452.2 451.0 450.3 447.0 448.0 444.0 C445.7 441.0 441.1 440.2 439.0 437.0 C436.9 433.8 435.5 429.5 435.5 425.0 C435.5 420.5 437.2 414.5 439.0 410.0 C440.8 405.5 443.8 401.2 446.0 398.0 Z" fill="#dcdcdc"/>
<g filter="url(#bl2)"><ellipse cx="436" cy="412" rx="7" ry="9" fill="#cfcfcf"/><ellipse cx="486" cy="405" rx="9" ry="12" fill="#d0d0d0"/></g>
<path filter="url(#bl05)" d="M455 389 Q450 400 454 409 Q462 420 472 421.5 Q479 419 480.5 410" stroke="#505050" stroke-width="2.4" fill="none"/>
<path filter="url(#bl05)" d="M451 396 Q446 404 449 412" stroke="#3a3a3a" stroke-width="2.2" fill="none"/>
<g filter="url(#bl05)" fill="#2f2f31">
<ellipse cx="439.7" cy="389.5" rx="6.8" ry="10"/>
<ellipse cx="412" cy="423" rx="7" ry="11"/>
<ellipse cx="424" cy="423.5" rx="4.5" ry="4.5"/>
<ellipse cx="405" cy="444" rx="6" ry="12"/>
<ellipse cx="394.5" cy="454.5" rx="6" ry="8"/>
<ellipse cx="399" cy="462.6" rx="8" ry="4"/>
<ellipse cx="415" cy="460.6" rx="6" ry="4.5"/>
<ellipse cx="419" cy="452.7" rx="4" ry="4"/>
<ellipse cx="433" cy="466.7" rx="10" ry="6.5"/>
<ellipse cx="444" cy="458" rx="8.5" ry="13"/>
<ellipse cx="393" cy="441.8" rx="2.5" ry="2.5"/>
<ellipse cx="486.3" cy="452.2" rx="6.5" ry="7"/>
<ellipse cx="491" cy="467.8" rx="9" ry="8"/>
<ellipse cx="506.6" cy="452.2" rx="9" ry="9"/>
<ellipse cx="506.6" cy="466.3" rx="9" ry="9"/>
<ellipse cx="509.7" cy="478.8" rx="6" ry="6"/>
<ellipse cx="497" cy="458" rx="6" ry="8"/>
<ellipse cx="498.8" cy="412.3" rx="5" ry="6"/>
<ellipse cx="494.8" cy="427.2" rx="4" ry="4"/>
<ellipse cx="505" cy="418.6" rx="3" ry="3"/>
<ellipse cx="508.9" cy="428" rx="3" ry="3"/>
<ellipse cx="502.7" cy="433.4" rx="2" ry="2"/>
<ellipse cx="464.4" cy="455.3" rx="3" ry="6"/>
<ellipse cx="469" cy="463.1" rx="3" ry="3"/>
<ellipse cx="464.4" cy="467" rx="3" ry="3"/>
<ellipse cx="512" cy="442" rx="3" ry="4"/>
<ellipse cx="495" cy="477" rx="7" ry="5"/>
</g>
<g filter="url(#bl03)" stroke="#8a8a8a" stroke-width="0.9" fill="none">
<path d="M398 448 L410 452 M440 450 L446 466 M425 462 L440 470 M492 458 L505 462 M500 447 L500 470 M488 460 L484 470 M499 473 L512 474"/>
</g>
<g filter="url(#bl05)" fill="#f6f6f6">
<ellipse cx="431.5" cy="372" rx="2.8" ry="1.9"/>
<ellipse cx="430" cy="380" rx="2.8" ry="1.9"/>
<ellipse cx="419" cy="385.5" rx="2.8" ry="1.9"/>
<ellipse cx="412" cy="394" rx="2.8" ry="1.9"/>
<ellipse cx="405" cy="403" rx="2.8" ry="1.9"/>
<ellipse cx="397" cy="412" rx="2.8" ry="1.9"/>
<ellipse cx="394" cy="422" rx="2.8" ry="1.9"/>
<ellipse cx="390" cy="432" rx="2.8" ry="1.9"/>
<ellipse cx="387.5" cy="440" rx="2.8" ry="1.9"/>
<ellipse cx="488" cy="372" rx="2.8" ry="1.9"/>
<ellipse cx="487" cy="385" rx="2.8" ry="1.9"/>
<ellipse cx="500" cy="384" rx="2.8" ry="1.9"/>
<ellipse cx="507" cy="392" rx="2.8" ry="1.9"/>
<ellipse cx="512" cy="402" rx="2.8" ry="1.9"/>
<ellipse cx="514.5" cy="414" rx="2.8" ry="1.9"/>
<ellipse cx="515.5" cy="428" rx="2.8" ry="1.9"/>
</g>
</g>
<rect x="448.7" y="370.4" width="68.4" height="11" fill="#4a7cc6"/>
<text x="453.4" y="379.2" font-size="7" fill="#eef4ff" font-style="italic" textLength="15.6" lengthAdjust="spacingAndGlyphs">BRAF</text>
<text x="469.5" y="375" font-size="3" fill="#eef4ff" font-style="italic">V600E</text>
<text x="480" y="379.2" font-size="7" fill="#eef4ff">+</text>
<text x="486.5" y="379.2" font-size="7" fill="#eef4ff" font-style="italic" textLength="15.6" lengthAdjust="spacingAndGlyphs">BRAF</text>
<text x="502.6" y="375" font-size="3" fill="#eef4ff" font-style="italic">N581S</text>
</svg></body></html>
